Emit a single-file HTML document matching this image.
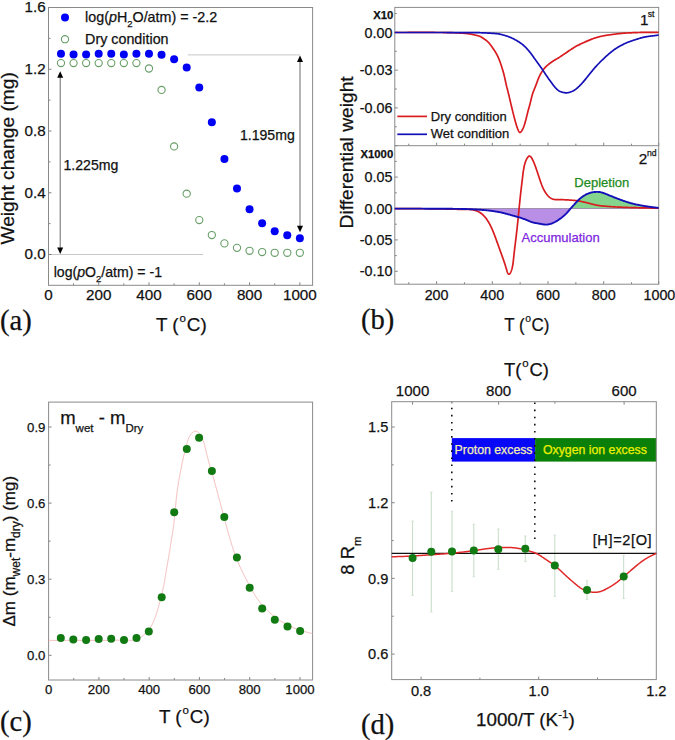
<!DOCTYPE html>
<html><head><meta charset="utf-8"><title>figure</title>
<style>
html,body{margin:0;padding:0;background:#fff;}
body{width:675px;height:740px;overflow:hidden;font-family:"Liberation Sans", sans-serif;}
svg{display:block;}
</style></head>
<body>
<svg width="675" height="740" viewBox="0 0 675 740">
<rect x="0" y="0" width="675" height="740" fill="#fff"/>
<g id="pa">
<line x1="187.8" y1="54.9" x2="300" y2="54.9" stroke="#c8c8c8" stroke-width="1" />
<line x1="48.5" y1="254.5" x2="203" y2="254.5" stroke="#c8c8c8" stroke-width="1" />
<line x1="73.55" y1="285.3" x2="73.55" y2="283.3" stroke="#666" stroke-width="0.8" />
<line x1="98.69" y1="285.3" x2="98.69" y2="282.3" stroke="#666" stroke-width="0.8" />
<line x1="123.84" y1="285.3" x2="123.84" y2="283.3" stroke="#666" stroke-width="0.8" />
<line x1="148.98" y1="285.3" x2="148.98" y2="282.3" stroke="#666" stroke-width="0.8" />
<line x1="174.12" y1="285.3" x2="174.12" y2="283.3" stroke="#666" stroke-width="0.8" />
<line x1="199.27" y1="285.3" x2="199.27" y2="282.3" stroke="#666" stroke-width="0.8" />
<line x1="224.42" y1="285.3" x2="224.42" y2="283.3" stroke="#666" stroke-width="0.8" />
<line x1="249.56" y1="285.3" x2="249.56" y2="282.3" stroke="#666" stroke-width="0.8" />
<line x1="274.7" y1="285.3" x2="274.7" y2="283.3" stroke="#666" stroke-width="0.8" />
<line x1="299.85" y1="285.3" x2="299.85" y2="282.3" stroke="#666" stroke-width="0.8" />
<line x1="48.5" y1="254.5" x2="51.5" y2="254.5" stroke="#666" stroke-width="0.8" />
<line x1="48.5" y1="223.62" x2="50.5" y2="223.62" stroke="#666" stroke-width="0.8" />
<line x1="48.5" y1="192.75" x2="51.5" y2="192.75" stroke="#666" stroke-width="0.8" />
<line x1="48.5" y1="161.88" x2="50.5" y2="161.88" stroke="#666" stroke-width="0.8" />
<line x1="48.5" y1="131" x2="51.5" y2="131" stroke="#666" stroke-width="0.8" />
<line x1="48.5" y1="100.12" x2="50.5" y2="100.12" stroke="#666" stroke-width="0.8" />
<line x1="48.5" y1="69.25" x2="51.5" y2="69.25" stroke="#666" stroke-width="0.8" />
<line x1="48.5" y1="38.37" x2="50.5" y2="38.37" stroke="#666" stroke-width="0.8" />
<rect x="48.5" y="7.5" width="264.1" height="277.8" fill="none" stroke="#8a8a8a" stroke-width="1" />
<text x="48.4" y="300.2" font-size="15.2" text-anchor="middle" fill="#111" stroke="#111" stroke-width="0.25" font-family='"Liberation Sans", sans-serif' font-weight="normal" >0</text>
<text x="98.69" y="300.2" font-size="15.2" text-anchor="middle" fill="#111" stroke="#111" stroke-width="0.25" font-family='"Liberation Sans", sans-serif' font-weight="normal" >200</text>
<text x="148.98" y="300.2" font-size="15.2" text-anchor="middle" fill="#111" stroke="#111" stroke-width="0.25" font-family='"Liberation Sans", sans-serif' font-weight="normal" >400</text>
<text x="199.27" y="300.2" font-size="15.2" text-anchor="middle" fill="#111" stroke="#111" stroke-width="0.25" font-family='"Liberation Sans", sans-serif' font-weight="normal" >600</text>
<text x="249.56" y="300.2" font-size="15.2" text-anchor="middle" fill="#111" stroke="#111" stroke-width="0.25" font-family='"Liberation Sans", sans-serif' font-weight="normal" >800</text>
<text x="299.85" y="300.2" font-size="15.2" text-anchor="middle" fill="#111" stroke="#111" stroke-width="0.25" font-family='"Liberation Sans", sans-serif' font-weight="normal" >1000</text>
<text x="45.7" y="259.3" font-size="15.2" text-anchor="end" fill="#111" stroke="#111" stroke-width="0.25" font-family='"Liberation Sans", sans-serif' font-weight="normal" >0.0</text>
<text x="45.7" y="197.55" font-size="15.2" text-anchor="end" fill="#111" stroke="#111" stroke-width="0.25" font-family='"Liberation Sans", sans-serif' font-weight="normal" >0.4</text>
<text x="45.7" y="135.8" font-size="15.2" text-anchor="end" fill="#111" stroke="#111" stroke-width="0.25" font-family='"Liberation Sans", sans-serif' font-weight="normal" >0.8</text>
<text x="45.7" y="74.05" font-size="15.2" text-anchor="end" fill="#111" stroke="#111" stroke-width="0.25" font-family='"Liberation Sans", sans-serif' font-weight="normal" >1.2</text>
<text x="45.7" y="12.3" font-size="15.2" text-anchor="end" fill="#111" stroke="#111" stroke-width="0.25" font-family='"Liberation Sans", sans-serif' font-weight="normal" >1.6</text>
<text x="156" y="331.4" font-size="18.8" text-anchor="start" fill="#111" stroke="#111" stroke-width="0.25" font-family='"Liberation Sans", sans-serif' font-weight="normal" >T (<tspan font-size="11.5" dy="-9" dx="0.9">o</tspan><tspan dy="9" dx="0.9">C)</tspan></text>
<text transform="translate(13.9,244.6) rotate(-90)" font-size="19.2" font-family='"Liberation Sans", sans-serif' fill="#111" stroke="#111" stroke-width="0.25">Weight change (mg)</text>
<text x="0" y="329.8" font-size="28.6" text-anchor="start" fill="#111" stroke="#111" stroke-width="0.25" font-family='"Liberation Serif", serif' font-weight="normal" >(a)</text>
<line x1="60.2" y1="75.3" x2="60.2" y2="250" stroke="#6a6a6a" stroke-width="1" />
<path d="M60.2,71.3 L57.2,77.8 L63.2,77.8 Z" fill="#000"/>
<path d="M60.2,254 L57.2,247.5 L63.2,247.5 Z" fill="#000"/>
<line x1="300" y1="59.4" x2="300" y2="228.2" stroke="#6a6a6a" stroke-width="1" />
<path d="M300,55.4 L297,61.9 L303,61.9 Z" fill="#000"/>
<path d="M300,232.2 L297,225.7 L303,225.7 Z" fill="#000"/>
<text x="63.5" y="170.4" font-size="14.1" text-anchor="start" fill="#111" stroke="#111" stroke-width="0.25" font-family='"Liberation Sans", sans-serif' font-weight="normal" >1.225mg</text>
<text x="239.9" y="139.5" font-size="14.1" text-anchor="start" fill="#111" stroke="#111" stroke-width="0.25" font-family='"Liberation Sans", sans-serif' font-weight="normal" >1.195mg</text>
<text x="53.7" y="277" font-size="14.1" text-anchor="start" fill="#111" stroke="#111" stroke-width="0.25" font-family='"Liberation Sans", sans-serif' font-weight="normal" >log(<tspan font-style="italic">p</tspan>O<tspan font-size="9.5" dy="4.5">2</tspan><tspan dy="-4.5">/atm) = -1</tspan></text>
<circle cx="65" cy="17.6" r="4" fill="#0000ff" stroke="none" stroke-width="1"/>
<text x="85.1" y="22.4" font-size="14.3" text-anchor="start" fill="#111" stroke="#111" stroke-width="0.25" font-family='"Liberation Sans", sans-serif' font-weight="normal" >log(<tspan font-style="italic">p</tspan>H<tspan font-size="9.5" dy="4.5">2</tspan><tspan dy="-4.5">O/atm) = -2.2</tspan></text>
<circle cx="65" cy="39.2" r="3.6" fill="none" stroke="#6a9e6a" stroke-width="1.1"/>
<text x="85.1" y="43.6" font-size="14.3" text-anchor="start" fill="#111" stroke="#111" stroke-width="0.25" font-family='"Liberation Sans", sans-serif' font-weight="normal" >Dry condition</text>
<circle cx="60.97" cy="63.07" r="3.6" fill="none" stroke="#689e68" stroke-width="1.1"/>
<circle cx="73.55" cy="63.07" r="3.6" fill="none" stroke="#689e68" stroke-width="1.1"/>
<circle cx="86.12" cy="63.07" r="3.6" fill="none" stroke="#689e68" stroke-width="1.1"/>
<circle cx="98.69" cy="63.07" r="3.6" fill="none" stroke="#689e68" stroke-width="1.1"/>
<circle cx="111.26" cy="63.07" r="3.6" fill="none" stroke="#689e68" stroke-width="1.1"/>
<circle cx="123.84" cy="63.07" r="3.6" fill="none" stroke="#689e68" stroke-width="1.1"/>
<circle cx="136.41" cy="63.07" r="3.6" fill="none" stroke="#689e68" stroke-width="1.1"/>
<circle cx="148.98" cy="68.48" r="3.6" fill="none" stroke="#689e68" stroke-width="1.1"/>
<circle cx="161.55" cy="89.94" r="3.6" fill="none" stroke="#689e68" stroke-width="1.1"/>
<circle cx="174.12" cy="146.44" r="3.6" fill="none" stroke="#689e68" stroke-width="1.1"/>
<circle cx="186.7" cy="193.68" r="3.6" fill="none" stroke="#689e68" stroke-width="1.1"/>
<circle cx="199.27" cy="220.07" r="3.6" fill="none" stroke="#689e68" stroke-width="1.1"/>
<circle cx="211.84" cy="235.05" r="3.6" fill="none" stroke="#689e68" stroke-width="1.1"/>
<circle cx="224.42" cy="243.38" r="3.6" fill="none" stroke="#689e68" stroke-width="1.1"/>
<circle cx="236.99" cy="247.86" r="3.6" fill="none" stroke="#689e68" stroke-width="1.1"/>
<circle cx="249.56" cy="250.79" r="3.6" fill="none" stroke="#689e68" stroke-width="1.1"/>
<circle cx="262.13" cy="252.03" r="3.6" fill="none" stroke="#689e68" stroke-width="1.1"/>
<circle cx="274.7" cy="252.8" r="3.6" fill="none" stroke="#689e68" stroke-width="1.1"/>
<circle cx="287.28" cy="252.8" r="3.6" fill="none" stroke="#689e68" stroke-width="1.1"/>
<circle cx="299.85" cy="252.8" r="3.6" fill="none" stroke="#689e68" stroke-width="1.1"/>
<circle cx="60.97" cy="53.81" r="4" fill="#0000f5" stroke="none" stroke-width="1"/>
<circle cx="73.55" cy="54.58" r="4" fill="#0000f5" stroke="none" stroke-width="1"/>
<circle cx="86.12" cy="54.58" r="4" fill="#0000f5" stroke="none" stroke-width="1"/>
<circle cx="98.69" cy="53.81" r="4" fill="#0000f5" stroke="none" stroke-width="1"/>
<circle cx="111.26" cy="53.81" r="4" fill="#0000f5" stroke="none" stroke-width="1"/>
<circle cx="123.84" cy="54.58" r="4" fill="#0000f5" stroke="none" stroke-width="1"/>
<circle cx="136.41" cy="53.81" r="4" fill="#0000f5" stroke="none" stroke-width="1"/>
<circle cx="148.98" cy="53.81" r="4" fill="#0000f5" stroke="none" stroke-width="1"/>
<circle cx="161.55" cy="54.74" r="4" fill="#0000f5" stroke="none" stroke-width="1"/>
<circle cx="174.12" cy="59.22" r="4" fill="#0000f5" stroke="none" stroke-width="1"/>
<circle cx="186.7" cy="67.55" r="4" fill="#0000f5" stroke="none" stroke-width="1"/>
<circle cx="199.27" cy="87.47" r="4" fill="#0000f5" stroke="none" stroke-width="1"/>
<circle cx="211.84" cy="122.2" r="4" fill="#0000f5" stroke="none" stroke-width="1"/>
<circle cx="224.42" cy="158.94" r="4" fill="#0000f5" stroke="none" stroke-width="1"/>
<circle cx="236.99" cy="188.43" r="4" fill="#0000f5" stroke="none" stroke-width="1"/>
<circle cx="249.56" cy="209.27" r="4" fill="#0000f5" stroke="none" stroke-width="1"/>
<circle cx="262.13" cy="223.16" r="4" fill="#0000f5" stroke="none" stroke-width="1"/>
<circle cx="274.7" cy="231.19" r="4" fill="#0000f5" stroke="none" stroke-width="1"/>
<circle cx="287.28" cy="235.2" r="4" fill="#0000f5" stroke="none" stroke-width="1"/>
<circle cx="299.85" cy="238.14" r="4" fill="#0000f5" stroke="none" stroke-width="1"/>
</g>
<g id="pb">
<clipPath id="cpP"><rect x="466" y="208.5" width="104.5" height="30"/></clipPath>
<clipPath id="cpG"><rect x="570.4" y="180" width="89" height="28.5"/></clipPath>
<path d="M394.8,208.6L396.54,208.6L398.27,208.61L400.01,208.61L401.74,208.62L403.46,208.62L405.19,208.62L406.9,208.63L408.61,208.63L410.32,208.64L412.01,208.64L413.7,208.65L415.37,208.65L417.04,208.65L418.69,208.66L420.33,208.66L421.95,208.67L423.57,208.67L425.16,208.68L426.74,208.68L428.3,208.69L429.84,208.7L431.36,208.7L432.87,208.71L434.35,208.71L435.81,208.72L437.24,208.73L438.65,208.73L440.04,208.74L441.4,208.75L442.74,208.75L444.04,208.76L445.32,208.77L446.57,208.78L447.79,208.78L448.97,208.79L450.13,208.8L451.25,208.81L452.34,208.82L453.4,208.83L454.43,208.84L455.44,208.85L456.42,208.86L457.38,208.87L458.32,208.89L459.25,208.9L460.15,208.92L461.05,208.93L461.93,208.95L462.8,208.97L463.66,208.99L464.51,209.01L465.36,209.04L466.2,209.06L467.04,209.09L467.88,209.12L468.73,209.15L469.58,209.18L470.43,209.22L471.29,209.26L472.16,209.3L473.03,209.34L473.9,209.38L474.78,209.43L475.66,209.48L476.54,209.53L477.42,209.58L478.31,209.64L479.19,209.7L480.07,209.76L480.94,209.82L481.82,209.89L482.69,209.95L483.55,210.03L484.41,210.1L485.27,210.17L486.11,210.25L486.95,210.33L487.78,210.42L488.6,210.5L489.41,210.59L490.21,210.69L491.01,210.78L491.79,210.88L492.57,210.99L493.35,211.09L494.12,211.21L494.88,211.32L495.64,211.44L496.4,211.57L497.15,211.7L497.9,211.84L498.65,211.98L499.39,212.13L500.14,212.28L500.88,212.44L501.62,212.61L502.37,212.78L503.11,212.96L503.85,213.14L504.59,213.33L505.33,213.52L506.06,213.72L506.79,213.91L507.52,214.11L508.24,214.31L508.96,214.51L509.67,214.71L510.37,214.91L511.07,215.11L511.76,215.3L512.44,215.49L513.1,215.68L513.76,215.86L514.41,216.04L515.05,216.21L515.68,216.38L516.3,216.55L516.91,216.71L517.52,216.88L518.12,217.04L518.71,217.21L519.3,217.38L519.89,217.55L520.47,217.74L521.05,217.92L521.63,218.12L522.21,218.32L522.79,218.53L523.37,218.76L523.96,218.99L524.54,219.23L525.12,219.48L525.71,219.73L526.3,219.98L526.89,220.23L527.48,220.48L528.07,220.73L528.67,220.97L529.27,221.21L529.87,221.44L530.47,221.65L531.07,221.86L531.68,222.06L532.29,222.24L532.9,222.4L533.51,222.56L534.12,222.7L534.73,222.84L535.34,222.96L535.94,223.08L536.54,223.19L537.14,223.3L537.73,223.41L538.32,223.51L538.9,223.61L539.47,223.71L540.03,223.81L540.58,223.91L541.13,224.01L541.67,224.11L542.2,224.2L542.72,224.29L543.25,224.37L543.77,224.45L544.28,224.51L544.8,224.56L545.31,224.59L545.82,224.61L546.34,224.6L546.86,224.58L547.38,224.54L547.9,224.48L548.43,224.4L548.95,224.3L549.48,224.19L550,224.05L550.52,223.91L551.04,223.74L551.56,223.57L552.08,223.38L552.59,223.17L553.1,222.96L553.6,222.73L554.1,222.49L554.6,222.24L555.09,221.99L555.58,221.72L556.07,221.44L556.56,221.15L557.04,220.85L557.53,220.54L558.01,220.22L558.5,219.9L558.98,219.56L559.47,219.22L559.96,218.87L560.45,218.51L560.94,218.15L561.42,217.78L561.91,217.4L562.39,217.02L562.86,216.63L563.33,216.24L563.8,215.84L564.25,215.45L564.69,215.05L565.13,214.65L565.55,214.24L565.96,213.84L566.35,213.44L566.74,213.04L567.11,212.64L567.47,212.24L567.82,211.84L568.16,211.44L568.5,211.04L568.84,210.64L569.17,210.25L569.5,209.85L569.83,209.46L570.15,209.07L570.49,208.68L570.82,208.29L571.16,207.91L571.5,207.52L571.85,207.13L572.19,206.75L572.54,206.36L572.9,205.97L573.25,205.58L573.61,205.18L573.98,204.79L574.34,204.38L574.71,203.98L575.08,203.57L575.46,203.15L575.84,202.74L576.22,202.32L576.61,201.9L577,201.48L577.4,201.07L577.81,200.65L578.22,200.24L578.64,199.83L579.07,199.43L579.51,199.03L579.95,198.64L580.4,198.26L580.86,197.89L581.33,197.52L581.81,197.16L582.29,196.82L582.77,196.48L583.26,196.15L583.75,195.84L584.25,195.53L584.74,195.24L585.23,194.96L585.72,194.7L586.21,194.44L586.69,194.21L587.18,193.98L587.65,193.77L588.13,193.57L588.6,193.39L589.07,193.21L589.54,193.05L590.01,192.91L590.48,192.77L590.95,192.64L591.41,192.53L591.88,192.42L592.35,192.33L592.82,192.25L593.29,192.17L593.76,192.11L594.23,192.05L594.69,192L595.16,191.97L595.62,191.94L596.07,191.92L596.52,191.9L596.97,191.9L597.4,191.9L597.83,191.92L598.26,191.94L598.68,191.96L599.09,192L599.5,192.05L599.91,192.1L600.31,192.17L600.7,192.24L601.09,192.32L601.48,192.41L601.86,192.51L602.25,192.62L602.64,192.74L603.03,192.87L603.43,193.01L603.84,193.16L604.26,193.32L604.7,193.48L605.15,193.66L605.62,193.84L606.1,194.03L606.59,194.23L607.1,194.44L607.62,194.65L608.15,194.87L608.68,195.08L609.23,195.31L609.77,195.53L610.32,195.76L610.88,195.98L611.43,196.21L611.98,196.43L612.53,196.66L613.08,196.88L613.63,197.1L614.17,197.31L614.71,197.53L615.26,197.74L615.8,197.96L616.34,198.17L616.88,198.38L617.42,198.59L617.96,198.79L618.5,199L619.04,199.2L619.59,199.41L620.13,199.61L620.67,199.81L621.22,200.01L621.77,200.21L622.31,200.4L622.86,200.6L623.41,200.79L623.96,200.98L624.5,201.17L625.05,201.36L625.6,201.54L626.15,201.72L626.7,201.9L627.25,202.08L627.8,202.25L628.35,202.42L628.9,202.59L629.45,202.75L630,202.91L630.55,203.07L631.1,203.23L631.66,203.38L632.21,203.53L632.77,203.67L633.32,203.81L633.88,203.95L634.44,204.08L634.99,204.21L635.55,204.33L636.11,204.46L636.67,204.57L637.23,204.69L637.79,204.8L638.35,204.91L638.91,205.02L639.47,205.13L640.02,205.23L640.58,205.33L641.13,205.43L641.68,205.53L642.23,205.63L642.77,205.73L643.32,205.82L643.87,205.91L644.42,206.01L644.97,206.1L645.52,206.19L646.08,206.28L646.64,206.37L647.21,206.45L647.79,206.54L648.37,206.62L648.96,206.71L649.56,206.79L650.17,206.87L650.79,206.96L651.41,207.04L652.05,207.12L652.68,207.2L653.33,207.28L653.97,207.36L654.63,207.43L655.28,207.51L655.94,207.59L656.61,207.67L657.27,207.75L657.93,207.82L658.6,207.9 L658.6,208.5 L394.8,208.5 Z" fill="#b98ee6" clip-path="url(#cpP)"/>
<path d="M394.8,208.6L396.54,208.6L398.27,208.61L400.01,208.61L401.74,208.62L403.46,208.62L405.19,208.62L406.9,208.63L408.61,208.63L410.32,208.64L412.01,208.64L413.7,208.65L415.37,208.65L417.04,208.65L418.69,208.66L420.33,208.66L421.95,208.67L423.57,208.67L425.16,208.68L426.74,208.68L428.3,208.69L429.84,208.7L431.36,208.7L432.87,208.71L434.35,208.71L435.81,208.72L437.24,208.73L438.65,208.73L440.04,208.74L441.4,208.75L442.74,208.75L444.04,208.76L445.32,208.77L446.57,208.78L447.79,208.78L448.97,208.79L450.13,208.8L451.25,208.81L452.34,208.82L453.4,208.83L454.43,208.84L455.44,208.85L456.42,208.86L457.38,208.87L458.32,208.89L459.25,208.9L460.15,208.92L461.05,208.93L461.93,208.95L462.8,208.97L463.66,208.99L464.51,209.01L465.36,209.04L466.2,209.06L467.04,209.09L467.88,209.12L468.73,209.15L469.58,209.18L470.43,209.22L471.29,209.26L472.16,209.3L473.03,209.34L473.9,209.38L474.78,209.43L475.66,209.48L476.54,209.53L477.42,209.58L478.31,209.64L479.19,209.7L480.07,209.76L480.94,209.82L481.82,209.89L482.69,209.95L483.55,210.03L484.41,210.1L485.27,210.17L486.11,210.25L486.95,210.33L487.78,210.42L488.6,210.5L489.41,210.59L490.21,210.69L491.01,210.78L491.79,210.88L492.57,210.99L493.35,211.09L494.12,211.21L494.88,211.32L495.64,211.44L496.4,211.57L497.15,211.7L497.9,211.84L498.65,211.98L499.39,212.13L500.14,212.28L500.88,212.44L501.62,212.61L502.37,212.78L503.11,212.96L503.85,213.14L504.59,213.33L505.33,213.52L506.06,213.72L506.79,213.91L507.52,214.11L508.24,214.31L508.96,214.51L509.67,214.71L510.37,214.91L511.07,215.11L511.76,215.3L512.44,215.49L513.1,215.68L513.76,215.86L514.41,216.04L515.05,216.21L515.68,216.38L516.3,216.55L516.91,216.71L517.52,216.88L518.12,217.04L518.71,217.21L519.3,217.38L519.89,217.55L520.47,217.74L521.05,217.92L521.63,218.12L522.21,218.32L522.79,218.53L523.37,218.76L523.96,218.99L524.54,219.23L525.12,219.48L525.71,219.73L526.3,219.98L526.89,220.23L527.48,220.48L528.07,220.73L528.67,220.97L529.27,221.21L529.87,221.44L530.47,221.65L531.07,221.86L531.68,222.06L532.29,222.24L532.9,222.4L533.51,222.56L534.12,222.7L534.73,222.84L535.34,222.96L535.94,223.08L536.54,223.19L537.14,223.3L537.73,223.41L538.32,223.51L538.9,223.61L539.47,223.71L540.03,223.81L540.58,223.91L541.13,224.01L541.67,224.11L542.2,224.2L542.72,224.29L543.25,224.37L543.77,224.45L544.28,224.51L544.8,224.56L545.31,224.59L545.82,224.61L546.34,224.6L546.86,224.58L547.38,224.54L547.9,224.48L548.43,224.4L548.95,224.3L549.48,224.19L550,224.05L550.52,223.91L551.04,223.74L551.56,223.57L552.08,223.38L552.59,223.17L553.1,222.96L553.6,222.73L554.1,222.49L554.6,222.24L555.09,221.99L555.58,221.72L556.07,221.44L556.56,221.15L557.04,220.85L557.53,220.54L558.01,220.22L558.5,219.9L558.98,219.56L559.47,219.22L559.96,218.87L560.45,218.51L560.94,218.15L561.42,217.78L561.91,217.4L562.39,217.02L562.86,216.63L563.33,216.24L563.8,215.84L564.25,215.45L564.69,215.05L565.13,214.65L565.55,214.24L565.96,213.84L566.35,213.44L566.74,213.04L567.11,212.64L567.47,212.24L567.82,211.84L568.16,211.44L568.5,211.04L568.84,210.64L569.17,210.25L569.5,209.85L569.83,209.46L570.15,209.07L570.49,208.68L570.82,208.29L571.16,207.91L571.5,207.52L571.85,207.13L572.19,206.75L572.54,206.36L572.9,205.97L573.25,205.58L573.61,205.18L573.98,204.79L574.34,204.38L574.71,203.98L575.08,203.57L575.46,203.15L575.84,202.74L576.22,202.32L576.61,201.9L577,201.48L577.4,201.07L577.81,200.65L578.22,200.24L578.64,199.83L579.07,199.43L579.51,199.03L579.95,198.64L580.4,198.26L580.86,197.89L581.33,197.52L581.81,197.16L582.29,196.82L582.77,196.48L583.26,196.15L583.75,195.84L584.25,195.53L584.74,195.24L585.23,194.96L585.72,194.7L586.21,194.44L586.69,194.21L587.18,193.98L587.65,193.77L588.13,193.57L588.6,193.39L589.07,193.21L589.54,193.05L590.01,192.91L590.48,192.77L590.95,192.64L591.41,192.53L591.88,192.42L592.35,192.33L592.82,192.25L593.29,192.17L593.76,192.11L594.23,192.05L594.69,192L595.16,191.97L595.62,191.94L596.07,191.92L596.52,191.9L596.97,191.9L597.4,191.9L597.83,191.92L598.26,191.94L598.68,191.96L599.09,192L599.5,192.05L599.91,192.1L600.31,192.17L600.7,192.24L601.09,192.32L601.48,192.41L601.86,192.51L602.25,192.62L602.64,192.74L603.03,192.87L603.43,193.01L603.84,193.16L604.26,193.32L604.7,193.48L605.15,193.66L605.62,193.84L606.1,194.03L606.59,194.23L607.1,194.44L607.62,194.65L608.15,194.87L608.68,195.08L609.23,195.31L609.77,195.53L610.32,195.76L610.88,195.98L611.43,196.21L611.98,196.43L612.53,196.66L613.08,196.88L613.63,197.1L614.17,197.31L614.71,197.53L615.26,197.74L615.8,197.96L616.34,198.17L616.88,198.38L617.42,198.59L617.96,198.79L618.5,199L619.04,199.2L619.59,199.41L620.13,199.61L620.67,199.81L621.22,200.01L621.77,200.21L622.31,200.4L622.86,200.6L623.41,200.79L623.96,200.98L624.5,201.17L625.05,201.36L625.6,201.54L626.15,201.72L626.7,201.9L627.25,202.08L627.8,202.25L628.35,202.42L628.9,202.59L629.45,202.75L630,202.91L630.55,203.07L631.1,203.23L631.66,203.38L632.21,203.53L632.77,203.67L633.32,203.81L633.88,203.95L634.44,204.08L634.99,204.21L635.55,204.33L636.11,204.46L636.67,204.57L637.23,204.69L637.79,204.8L638.35,204.91L638.91,205.02L639.47,205.13L640.02,205.23L640.58,205.33L641.13,205.43L641.68,205.53L642.23,205.63L642.77,205.73L643.32,205.82L643.87,205.91L644.42,206.01L644.97,206.1L645.52,206.19L646.08,206.28L646.64,206.37L647.21,206.45L647.79,206.54L648.37,206.62L648.96,206.71L649.56,206.79L650.17,206.87L650.79,206.96L651.41,207.04L652.05,207.12L652.68,207.2L653.33,207.28L653.97,207.36L654.63,207.43L655.28,207.51L655.94,207.59L656.61,207.67L657.27,207.75L657.93,207.82L658.6,207.9 L658.6,208.5 L394.8,208.5 Z" fill="#84d48e" clip-path="url(#cpG)"/>
<line x1="394.8" y1="32.4" x2="658.7" y2="32.4" stroke="#a0a0a0" stroke-width="1.2" />
<line x1="394.8" y1="208.5" x2="658.7" y2="208.5" stroke="#a090b0" stroke-width="1.2" />
<line x1="408.75" y1="284.2" x2="408.75" y2="282.2" stroke="#666" stroke-width="0.8" />
<line x1="408.75" y1="145.7" x2="408.75" y2="143.7" stroke="#666" stroke-width="0.8" />
<line x1="436.6" y1="284.2" x2="436.6" y2="281.2" stroke="#666" stroke-width="0.8" />
<line x1="436.6" y1="145.7" x2="436.6" y2="142.7" stroke="#666" stroke-width="0.8" />
<line x1="464.45" y1="284.2" x2="464.45" y2="282.2" stroke="#666" stroke-width="0.8" />
<line x1="464.45" y1="145.7" x2="464.45" y2="143.7" stroke="#666" stroke-width="0.8" />
<line x1="492.3" y1="284.2" x2="492.3" y2="281.2" stroke="#666" stroke-width="0.8" />
<line x1="492.3" y1="145.7" x2="492.3" y2="142.7" stroke="#666" stroke-width="0.8" />
<line x1="520.15" y1="284.2" x2="520.15" y2="282.2" stroke="#666" stroke-width="0.8" />
<line x1="520.15" y1="145.7" x2="520.15" y2="143.7" stroke="#666" stroke-width="0.8" />
<line x1="548" y1="284.2" x2="548" y2="281.2" stroke="#666" stroke-width="0.8" />
<line x1="548" y1="145.7" x2="548" y2="142.7" stroke="#666" stroke-width="0.8" />
<line x1="575.85" y1="284.2" x2="575.85" y2="282.2" stroke="#666" stroke-width="0.8" />
<line x1="575.85" y1="145.7" x2="575.85" y2="143.7" stroke="#666" stroke-width="0.8" />
<line x1="603.7" y1="284.2" x2="603.7" y2="281.2" stroke="#666" stroke-width="0.8" />
<line x1="603.7" y1="145.7" x2="603.7" y2="142.7" stroke="#666" stroke-width="0.8" />
<line x1="631.55" y1="284.2" x2="631.55" y2="282.2" stroke="#666" stroke-width="0.8" />
<line x1="631.55" y1="145.7" x2="631.55" y2="143.7" stroke="#666" stroke-width="0.8" />
<line x1="658.7" y1="284.2" x2="658.7" y2="281.2" stroke="#666" stroke-width="0.8" />
<line x1="658.7" y1="145.7" x2="658.7" y2="142.7" stroke="#666" stroke-width="0.8" />
<line x1="394.8" y1="145.65" x2="397.8" y2="145.65" stroke="#666" stroke-width="0.8" />
<line x1="394.8" y1="126.78" x2="396.8" y2="126.78" stroke="#666" stroke-width="0.8" />
<line x1="394.8" y1="107.9" x2="397.8" y2="107.9" stroke="#666" stroke-width="0.8" />
<line x1="394.8" y1="89.03" x2="396.8" y2="89.03" stroke="#666" stroke-width="0.8" />
<line x1="394.8" y1="70.15" x2="397.8" y2="70.15" stroke="#666" stroke-width="0.8" />
<line x1="394.8" y1="51.27" x2="396.8" y2="51.27" stroke="#666" stroke-width="0.8" />
<line x1="394.8" y1="32.4" x2="397.8" y2="32.4" stroke="#666" stroke-width="0.8" />
<line x1="394.8" y1="13.52" x2="396.8" y2="13.52" stroke="#666" stroke-width="0.8" />
<line x1="394.8" y1="271.3" x2="397.8" y2="271.3" stroke="#666" stroke-width="0.8" />
<line x1="394.8" y1="255.6" x2="396.8" y2="255.6" stroke="#666" stroke-width="0.8" />
<line x1="394.8" y1="239.9" x2="397.8" y2="239.9" stroke="#666" stroke-width="0.8" />
<line x1="394.8" y1="224.2" x2="396.8" y2="224.2" stroke="#666" stroke-width="0.8" />
<line x1="394.8" y1="208.5" x2="397.8" y2="208.5" stroke="#666" stroke-width="0.8" />
<line x1="394.8" y1="192.8" x2="396.8" y2="192.8" stroke="#666" stroke-width="0.8" />
<line x1="394.8" y1="177.1" x2="397.8" y2="177.1" stroke="#666" stroke-width="0.8" />
<line x1="394.8" y1="161.4" x2="396.8" y2="161.4" stroke="#666" stroke-width="0.8" />
<rect x="394.8" y="7.4" width="263.9" height="276.8" fill="none" stroke="#8a8a8a" stroke-width="1" />
<line x1="394.8" y1="145.7" x2="658.7" y2="145.7" stroke="#8a8a8a" stroke-width="1" />
<path d="M394.8,32.5L396.53,32.5L398.25,32.49L399.97,32.49L401.69,32.49L403.41,32.48L405.11,32.48L406.81,32.48L408.5,32.47L410.17,32.47L411.84,32.47L413.48,32.47L415.12,32.46L416.74,32.46L418.34,32.46L419.92,32.46L421.47,32.46L423.01,32.46L424.52,32.46L426.01,32.46L427.47,32.46L428.9,32.46L430.31,32.46L431.68,32.47L433.02,32.47L434.32,32.47L435.6,32.48L436.83,32.48L438.03,32.49L439.19,32.49L440.3,32.5L441.38,32.51L442.42,32.52L443.42,32.53L444.39,32.54L445.33,32.55L446.24,32.56L447.12,32.58L447.98,32.59L448.82,32.61L449.65,32.63L450.45,32.65L451.25,32.67L452.03,32.69L452.81,32.72L453.58,32.74L454.35,32.77L455.11,32.8L455.88,32.84L456.65,32.87L457.42,32.91L458.18,32.95L458.93,32.99L459.68,33.03L460.42,33.07L461.14,33.12L461.85,33.16L462.54,33.21L463.21,33.26L463.86,33.31L464.49,33.36L465.09,33.41L465.67,33.46L466.22,33.51L466.75,33.56L467.26,33.62L467.76,33.68L468.24,33.74L468.72,33.8L469.19,33.87L469.65,33.94L470.11,34.02L470.57,34.1L471.03,34.18L471.49,34.27L471.96,34.37L472.43,34.46L472.91,34.56L473.39,34.66L473.88,34.77L474.38,34.87L474.89,34.98L475.4,35.09L475.92,35.21L476.45,35.33L476.97,35.46L477.49,35.59L478,35.73L478.5,35.88L478.99,36.04L479.47,36.21L479.93,36.39L480.37,36.59L480.79,36.79L481.2,37.01L481.6,37.23L481.99,37.47L482.37,37.7L482.75,37.94L483.12,38.18L483.5,38.43L483.87,38.68L484.24,38.92L484.6,39.18L484.97,39.43L485.34,39.69L485.7,39.96L486.06,40.24L486.41,40.53L486.76,40.82L487.11,41.13L487.45,41.44L487.79,41.76L488.12,42.09L488.45,42.43L488.77,42.77L489.09,43.12L489.39,43.47L489.69,43.83L489.99,44.19L490.27,44.56L490.56,44.93L490.85,45.32L491.14,45.71L491.43,46.12L491.73,46.55L492.04,46.99L492.37,47.45L492.7,47.93L493.04,48.43L493.4,48.95L493.76,49.49L494.13,50.04L494.5,50.61L494.88,51.2L495.25,51.79L495.63,52.4L495.99,53.02L496.36,53.65L496.71,54.28L497.06,54.93L497.39,55.58L497.71,56.23L498.02,56.89L498.32,57.56L498.61,58.23L498.9,58.9L499.17,59.58L499.43,60.27L499.69,60.95L499.95,61.65L500.19,62.34L500.44,63.04L500.68,63.74L500.92,64.45L501.15,65.15L501.38,65.86L501.62,66.58L501.84,67.29L502.07,68L502.29,68.71L502.51,69.41L502.72,70.11L502.93,70.81L503.13,71.49L503.32,72.17L503.51,72.85L503.69,73.51L503.86,74.16L504.02,74.79L504.18,75.42L504.32,76.03L504.46,76.64L504.6,77.24L504.73,77.84L504.86,78.44L504.99,79.04L505.12,79.65L505.25,80.26L505.39,80.89L505.53,81.52L505.67,82.17L505.82,82.84L505.99,83.53L506.15,84.23L506.33,84.95L506.5,85.68L506.69,86.42L506.87,87.18L507.07,87.94L507.26,88.71L507.45,89.49L507.65,90.27L507.85,91.06L508.04,91.85L508.24,92.64L508.43,93.43L508.63,94.22L508.82,95.01L509.01,95.8L509.19,96.59L509.38,97.37L509.57,98.16L509.75,98.94L509.93,99.72L510.11,100.51L510.3,101.29L510.48,102.07L510.66,102.85L510.84,103.62L511.02,104.4L511.21,105.18L511.39,105.96L511.57,106.73L511.76,107.51L511.95,108.28L512.13,109.05L512.32,109.82L512.51,110.59L512.7,111.35L512.88,112.1L513.07,112.85L513.26,113.6L513.44,114.34L513.63,115.06L513.81,115.79L513.99,116.5L514.17,117.2L514.35,117.89L514.53,118.58L514.71,119.25L514.89,119.92L515.07,120.57L515.24,121.22L515.42,121.87L515.6,122.51L515.79,123.14L515.97,123.77L516.16,124.39L516.35,125.01L516.54,125.63L516.74,126.24L516.95,126.85L517.15,127.45L517.36,128.04L517.57,128.61L517.79,129.15L518,129.67L518.21,130.17L518.43,130.62L518.64,131.04L518.85,131.42L519.06,131.74L519.27,132.02L519.48,132.23L519.7,132.36L519.94,132.41L520.19,132.38L520.45,132.24L520.73,132.03L521.02,131.73L521.32,131.37L521.62,130.96L521.92,130.5L522.21,130.01L522.5,129.49L522.78,128.95L523.04,128.4L523.29,127.85L523.53,127.28L523.76,126.7L523.98,126.11L524.19,125.5L524.4,124.88L524.6,124.25L524.8,123.59L525,122.92L525.19,122.24L525.38,121.53L525.58,120.8L525.78,120.06L525.97,119.29L526.17,118.52L526.37,117.74L526.56,116.95L526.76,116.16L526.96,115.37L527.15,114.59L527.34,113.82L527.54,113.05L527.72,112.31L527.91,111.58L528.09,110.87L528.27,110.2L528.44,109.55L528.61,108.93L528.78,108.33L528.94,107.76L529.1,107.2L529.26,106.66L529.41,106.12L529.56,105.58L529.71,105.04L529.86,104.49L530.01,103.92L530.16,103.34L530.31,102.74L530.47,102.11L530.62,101.47L530.77,100.8L530.93,100.13L531.09,99.44L531.26,98.74L531.43,98.03L531.61,97.32L531.79,96.61L531.98,95.9L532.18,95.2L532.38,94.5L532.6,93.81L532.82,93.13L533.05,92.46L533.29,91.8L533.54,91.15L533.79,90.51L534.04,89.87L534.3,89.24L534.55,88.61L534.81,87.99L535.07,87.37L535.32,86.76L535.57,86.14L535.81,85.52L536.05,84.91L536.28,84.29L536.51,83.67L536.74,83.05L536.96,82.43L537.18,81.81L537.41,81.19L537.63,80.58L537.86,79.96L538.1,79.35L538.34,78.74L538.59,78.13L538.84,77.53L539.11,76.93L539.39,76.34L539.67,75.75L539.96,75.17L540.26,74.59L540.57,74.03L540.88,73.48L541.19,72.94L541.51,72.41L541.82,71.89L542.14,71.39L542.46,70.91L542.77,70.45L543.09,70L543.41,69.56L543.73,69.14L544.05,68.73L544.38,68.33L544.73,67.93L545.08,67.54L545.45,67.15L545.83,66.76L546.23,66.37L546.65,65.97L547.09,65.58L547.55,65.18L548.02,64.78L548.5,64.38L549,63.98L549.51,63.59L550.03,63.2L550.55,62.81L551.09,62.43L551.63,62.05L552.17,61.69L552.72,61.33L553.26,60.98L553.81,60.63L554.35,60.3L554.89,59.97L555.43,59.65L555.95,59.34L556.46,59.04L556.97,58.75L557.45,58.46L557.93,58.18L558.38,57.91L558.81,57.65L559.24,57.39L559.65,57.13L560.06,56.87L560.47,56.6L560.89,56.32L561.33,56.03L561.78,55.73L562.27,55.4L562.78,55.05L563.33,54.67L563.92,54.27L564.54,53.85L565.19,53.41L565.85,52.95L566.54,52.48L567.24,52.01L567.94,51.53L568.64,51.05L569.35,50.58L570.04,50.11L570.72,49.66L571.38,49.22L572.01,48.8L572.62,48.41L573.19,48.04L573.73,47.7L574.23,47.39L574.71,47.1L575.17,46.83L575.62,46.57L576.05,46.32L576.49,46.09L576.93,45.85L577.37,45.62L577.84,45.38L578.32,45.14L578.83,44.89L579.35,44.63L579.9,44.37L580.46,44.1L581.03,43.83L581.61,43.55L582.2,43.28L582.8,43L583.4,42.72L584.01,42.45L584.61,42.17L585.22,41.9L585.82,41.63L586.41,41.37L587.01,41.11L587.6,40.85L588.19,40.6L588.78,40.35L589.36,40.1L589.95,39.86L590.54,39.62L591.13,39.39L591.71,39.16L592.3,38.94L592.89,38.72L593.49,38.5L594.08,38.29L594.68,38.09L595.28,37.89L595.88,37.7L596.48,37.51L597.08,37.33L597.68,37.16L598.29,36.99L598.9,36.83L599.51,36.67L600.12,36.52L600.74,36.38L601.35,36.25L601.97,36.12L602.58,35.99L603.2,35.88L603.81,35.76L604.42,35.66L605.03,35.55L605.64,35.45L606.24,35.35L606.84,35.26L607.43,35.16L608.02,35.07L608.61,34.98L609.19,34.9L609.78,34.81L610.37,34.73L610.96,34.64L611.55,34.56L612.16,34.48L612.77,34.4L613.38,34.32L614.02,34.24L614.66,34.16L615.31,34.07L615.98,33.99L616.66,33.91L617.35,33.83L618.04,33.76L618.75,33.68L619.45,33.6L620.17,33.53L620.89,33.46L621.61,33.39L622.33,33.33L623.05,33.27L623.77,33.21L624.49,33.16L625.21,33.11L625.92,33.06L626.63,33.02L627.34,32.98L628.05,32.94L628.75,32.9L629.45,32.87L630.15,32.84L630.84,32.81L631.53,32.78L632.21,32.75L632.9,32.72L633.57,32.7L634.25,32.67L634.92,32.64L635.59,32.62L636.26,32.59L636.94,32.57L637.62,32.55L638.3,32.52L639,32.5L639.7,32.48L640.41,32.46L641.14,32.44L641.88,32.42L642.64,32.41L643.42,32.39L644.21,32.38L645.03,32.37L645.86,32.36L646.7,32.35L647.56,32.34L648.44,32.33L649.32,32.33L650.22,32.32L651.12,32.32L652.04,32.31L652.96,32.31L653.89,32.31L654.83,32.31L655.77,32.3L656.71,32.3L657.65,32.3L658.6,32.3" fill="none" stroke="#d81c20" stroke-width="1.7"/>
<path d="M394.8,32.5L397.06,32.5L399.32,32.5L401.58,32.5L403.84,32.5L406.09,32.5L408.33,32.5L410.56,32.5L412.78,32.5L415,32.5L417.2,32.5L419.38,32.5L421.55,32.5L423.7,32.5L425.84,32.51L427.95,32.51L430.05,32.51L432.12,32.51L434.17,32.51L436.19,32.51L438.18,32.51L440.15,32.52L442.09,32.52L443.99,32.52L445.87,32.52L447.71,32.53L449.51,32.53L451.28,32.53L453.01,32.54L454.7,32.54L456.36,32.54L457.96,32.55L459.53,32.55L461.05,32.56L462.52,32.56L463.95,32.57L465.32,32.57L466.65,32.58L467.92,32.59L469.14,32.59L470.3,32.6L471.41,32.61L472.47,32.62L473.48,32.63L474.45,32.64L475.38,32.65L476.27,32.66L477.12,32.67L477.95,32.68L478.75,32.7L479.53,32.72L480.29,32.73L481.03,32.75L481.76,32.78L482.49,32.8L483.21,32.83L483.93,32.85L484.65,32.88L485.38,32.92L486.11,32.95L486.85,32.99L487.59,33.03L488.33,33.07L489.06,33.11L489.79,33.15L490.5,33.2L491.2,33.24L491.89,33.29L492.55,33.33L493.19,33.38L493.81,33.42L494.39,33.46L494.95,33.5L495.47,33.54L495.96,33.59L496.43,33.63L496.88,33.67L497.32,33.72L497.74,33.77L498.16,33.83L498.58,33.89L499.01,33.96L499.44,34.05L499.89,34.14L500.34,34.24L500.8,34.34L501.27,34.46L501.75,34.58L502.23,34.7L502.71,34.84L503.2,34.97L503.69,35.11L504.18,35.25L504.67,35.4L505.15,35.54L505.64,35.69L506.12,35.84L506.59,36L507.07,36.15L507.53,36.31L507.99,36.47L508.44,36.63L508.88,36.79L509.31,36.96L509.74,37.13L510.16,37.3L510.57,37.47L510.98,37.65L511.38,37.83L511.79,38.01L512.19,38.2L512.6,38.4L513.01,38.6L513.42,38.81L513.84,39.03L514.25,39.24L514.67,39.46L515.08,39.69L515.48,39.91L515.88,40.13L516.27,40.35L516.65,40.57L517.02,40.79L517.38,41L517.73,41.21L518.07,41.42L518.41,41.63L518.74,41.84L519.07,42.05L519.4,42.27L519.73,42.49L520.06,42.71L520.4,42.94L520.73,43.18L521.07,43.41L521.4,43.66L521.74,43.91L522.07,44.17L522.41,44.43L522.74,44.7L523.08,44.97L523.41,45.25L523.74,45.54L524.07,45.83L524.39,46.13L524.71,46.43L525.03,46.74L525.35,47.05L525.66,47.37L525.97,47.69L526.28,48.01L526.59,48.34L526.89,48.67L527.19,49.01L527.49,49.35L527.8,49.69L528.1,50.04L528.4,50.4L528.71,50.76L529.01,51.13L529.31,51.49L529.62,51.86L529.92,52.23L530.21,52.6L530.51,52.97L530.79,53.34L531.07,53.7L531.34,54.05L531.6,54.4L531.86,54.75L532.12,55.11L532.37,55.46L532.64,55.83L532.91,56.21L533.19,56.61L533.49,57.03L533.8,57.48L534.14,57.95L534.5,58.46L534.88,59L535.28,59.55L535.69,60.13L536.12,60.72L536.55,61.33L536.99,61.94L537.43,62.55L537.87,63.16L538.3,63.76L538.73,64.36L539.15,64.94L539.55,65.5L539.94,66.03L540.3,66.54L540.65,67.03L540.97,67.48L541.28,67.91L541.58,68.33L541.86,68.73L542.13,69.12L542.39,69.5L542.64,69.87L542.9,70.25L543.15,70.62L543.4,71.01L543.66,71.4L543.91,71.8L544.18,72.2L544.45,72.62L544.72,73.05L545,73.48L545.29,73.93L545.59,74.38L545.9,74.85L546.22,75.33L546.55,75.82L546.9,76.32L547.25,76.83L547.61,77.34L547.98,77.87L548.35,78.39L548.73,78.92L549.11,79.45L549.49,79.98L549.87,80.51L550.25,81.03L550.63,81.55L551,82.06L551.37,82.57L551.73,83.06L552.09,83.55L552.44,84.03L552.79,84.5L553.14,84.96L553.49,85.41L553.84,85.86L554.19,86.29L554.55,86.72L554.9,87.14L555.26,87.55L555.63,87.95L556,88.34L556.37,88.72L556.75,89.09L557.14,89.44L557.53,89.78L557.92,90.1L558.33,90.4L558.73,90.68L559.14,90.94L559.56,91.18L559.99,91.39L560.41,91.59L560.84,91.76L561.27,91.91L561.7,92.05L562.12,92.17L562.54,92.28L562.95,92.38L563.35,92.47L563.74,92.55L564.12,92.63L564.5,92.69L564.88,92.75L565.26,92.79L565.65,92.81L566.06,92.83L566.48,92.82L566.93,92.79L567.4,92.74L567.89,92.67L568.4,92.58L568.93,92.46L569.47,92.33L570.02,92.17L570.58,91.99L571.14,91.78L571.71,91.56L572.27,91.31L572.84,91.04L573.39,90.74L573.94,90.43L574.47,90.09L575,89.73L575.53,89.36L576.04,88.98L576.54,88.58L577.04,88.17L577.52,87.75L578,87.32L578.46,86.89L578.92,86.46L579.37,86.03L579.81,85.59L580.23,85.16L580.65,84.73L581.07,84.3L581.47,83.87L581.88,83.43L582.28,82.99L582.68,82.54L583.08,82.08L583.48,81.61L583.89,81.13L584.3,80.64L584.72,80.14L585.15,79.62L585.58,79.09L586.02,78.54L586.47,77.98L586.93,77.41L587.39,76.83L587.86,76.24L588.33,75.65L588.81,75.05L589.29,74.44L589.77,73.84L590.25,73.23L590.74,72.63L591.23,72.03L591.72,71.43L592.2,70.84L592.69,70.25L593.18,69.67L593.66,69.1L594.14,68.54L594.63,67.98L595.11,67.43L595.59,66.89L596.08,66.35L596.56,65.82L597.05,65.29L597.53,64.77L598.02,64.25L598.51,63.73L599,63.22L599.49,62.72L599.98,62.22L600.48,61.72L600.97,61.22L601.47,60.73L601.97,60.24L602.48,59.76L602.98,59.27L603.49,58.79L604,58.32L604.5,57.84L605.02,57.37L605.53,56.9L606.04,56.44L606.55,55.98L607.07,55.52L607.58,55.06L608.1,54.61L608.62,54.16L609.14,53.71L609.66,53.27L610.18,52.83L610.7,52.4L611.22,51.97L611.75,51.55L612.27,51.13L612.8,50.73L613.33,50.33L613.86,49.93L614.39,49.55L614.92,49.18L615.45,48.81L615.99,48.45L616.53,48.1L617.07,47.76L617.61,47.43L618.16,47.1L618.71,46.78L619.26,46.46L619.82,46.15L620.38,45.84L620.95,45.54L621.52,45.25L622.09,44.95L622.67,44.67L623.25,44.38L623.83,44.1L624.42,43.82L625,43.56L625.58,43.29L626.16,43.04L626.73,42.79L627.29,42.55L627.85,42.32L628.4,42.09L628.93,41.88L629.46,41.68L629.97,41.49L630.47,41.3L630.97,41.13L631.46,40.96L631.94,40.79L632.43,40.63L632.92,40.47L633.42,40.31L633.93,40.14L634.45,39.98L634.98,39.81L635.54,39.63L636.1,39.44L636.68,39.26L637.28,39.07L637.88,38.88L638.49,38.69L639.11,38.5L639.74,38.31L640.37,38.12L641,37.94L641.63,37.77L642.26,37.61L642.88,37.45L643.5,37.31L644.12,37.17L644.73,37.04L645.34,36.93L645.94,36.82L646.54,36.71L647.14,36.62L647.73,36.52L648.33,36.44L648.92,36.35L649.52,36.27L650.11,36.19L650.71,36.11L651.31,36.03L651.91,35.96L652.51,35.88L653.12,35.8L653.72,35.72L654.33,35.64L654.94,35.57L655.55,35.49L656.16,35.41L656.77,35.33L657.38,35.26L657.99,35.18L658.6,35.1" fill="none" stroke="#1410b8" stroke-width="1.7"/>
<path d="M394.8,208.7L396.23,208.7L397.66,208.7L399.09,208.7L400.51,208.7L401.94,208.7L403.36,208.7L404.77,208.7L406.18,208.7L407.59,208.7L408.99,208.7L410.38,208.7L411.77,208.7L413.15,208.7L414.52,208.71L415.88,208.71L417.23,208.71L418.57,208.72L419.9,208.72L421.22,208.72L422.53,208.73L423.82,208.74L425.1,208.74L426.36,208.75L427.61,208.76L428.84,208.77L430.06,208.78L431.26,208.79L432.44,208.8L433.61,208.81L434.75,208.82L435.88,208.84L436.99,208.85L438.07,208.87L439.13,208.88L440.17,208.9L441.19,208.92L442.19,208.94L443.16,208.96L444.12,208.98L445.05,209.01L445.97,209.03L446.87,209.05L447.75,209.07L448.61,209.1L449.46,209.12L450.29,209.14L451.11,209.16L451.91,209.18L452.7,209.2L453.48,209.22L454.25,209.23L455,209.25L455.75,209.26L456.49,209.27L457.21,209.28L457.93,209.29L458.65,209.3L459.35,209.3L460.05,209.3L460.75,209.3L461.43,209.3L462.11,209.3L462.78,209.3L463.45,209.3L464.11,209.3L464.76,209.31L465.4,209.31L466.03,209.32L466.66,209.33L467.27,209.35L467.88,209.37L468.48,209.4L469.07,209.43L469.65,209.47L470.21,209.52L470.77,209.57L471.32,209.63L471.86,209.71L472.4,209.78L472.92,209.87L473.43,209.97L473.93,210.07L474.43,210.19L474.92,210.31L475.39,210.45L475.87,210.59L476.33,210.75L476.78,210.92L477.23,211.09L477.67,211.28L478.1,211.48L478.53,211.7L478.95,211.92L479.37,212.16L479.78,212.41L480.18,212.67L480.58,212.94L480.97,213.22L481.36,213.52L481.75,213.83L482.14,214.16L482.52,214.49L482.9,214.84L483.27,215.21L483.64,215.58L484.01,215.97L484.38,216.37L484.74,216.78L485.1,217.2L485.46,217.63L485.81,218.08L486.16,218.53L486.5,219L486.84,219.47L487.17,219.96L487.5,220.45L487.83,220.96L488.15,221.47L488.47,221.99L488.78,222.53L489.09,223.07L489.4,223.62L489.7,224.18L490,224.74L490.29,225.32L490.59,225.91L490.88,226.5L491.17,227.11L491.45,227.72L491.73,228.34L492.01,228.97L492.29,229.61L492.57,230.26L492.85,230.92L493.12,231.58L493.4,232.25L493.67,232.93L493.94,233.62L494.21,234.31L494.48,235.01L494.75,235.71L495.02,236.42L495.28,237.13L495.55,237.84L495.81,238.55L496.07,239.27L496.33,239.98L496.59,240.7L496.85,241.41L497.1,242.13L497.36,242.84L497.61,243.54L497.87,244.25L498.12,244.95L498.37,245.64L498.62,246.33L498.86,247.02L499.11,247.7L499.35,248.37L499.6,249.05L499.84,249.71L500.08,250.37L500.31,251.03L500.55,251.68L500.79,252.33L501.02,252.97L501.25,253.61L501.48,254.25L501.7,254.88L501.93,255.5L502.15,256.12L502.37,256.74L502.59,257.35L502.81,257.96L503.02,258.56L503.23,259.17L503.44,259.77L503.65,260.36L503.85,260.96L504.06,261.56L504.26,262.17L504.46,262.77L504.66,263.37L504.86,263.98L505.06,264.6L505.25,265.22L505.45,265.84L505.64,266.48L505.83,267.12L506.02,267.77L506.21,268.42L506.4,269.08L506.59,269.73L506.78,270.36L506.97,270.97L507.16,271.56L507.36,272.1L507.56,272.6L507.77,273.05L507.98,273.43L508.19,273.75L508.41,273.99L508.64,274.14L508.88,274.21L509.12,274.18L509.37,274.07L509.62,273.87L509.87,273.6L510.13,273.26L510.38,272.86L510.62,272.41L510.86,271.91L511.1,271.37L511.32,270.8L511.53,270.2L511.73,269.58L511.92,268.94L512.09,268.29L512.25,267.62L512.4,266.94L512.54,266.24L512.67,265.54L512.8,264.82L512.91,264.09L513.02,263.35L513.12,262.6L513.21,261.84L513.3,261.07L513.39,260.3L513.48,259.53L513.56,258.74L513.64,257.96L513.72,257.17L513.8,256.38L513.88,255.59L513.96,254.8L514.05,254.01L514.14,253.22L514.22,252.42L514.32,251.63L514.41,250.84L514.5,250.04L514.6,249.24L514.69,248.45L514.79,247.65L514.89,246.85L514.99,246.04L515.08,245.24L515.19,244.43L515.29,243.62L515.39,242.8L515.49,241.98L515.59,241.16L515.69,240.34L515.79,239.51L515.89,238.68L515.99,237.84L516.1,237L516.2,236.16L516.3,235.31L516.39,234.46L516.49,233.6L516.59,232.74L516.69,231.88L516.79,231.01L516.89,230.14L516.98,229.26L517.08,228.38L517.18,227.5L517.27,226.61L517.37,225.72L517.46,224.82L517.56,223.93L517.65,223.03L517.75,222.12L517.84,221.21L517.93,220.3L518.03,219.39L518.12,218.47L518.21,217.55L518.31,216.63L518.4,215.7L518.49,214.77L518.58,213.84L518.68,212.91L518.77,211.97L518.86,211.04L518.95,210.1L519.04,209.17L519.13,208.23L519.23,207.3L519.32,206.37L519.41,205.44L519.5,204.51L519.59,203.58L519.69,202.65L519.78,201.73L519.87,200.82L519.96,199.9L520.06,198.99L520.15,198.09L520.25,197.19L520.34,196.3L520.44,195.41L520.53,194.53L520.63,193.66L520.72,192.79L520.82,191.93L520.92,191.08L521.01,190.23L521.11,189.4L521.21,188.56L521.31,187.74L521.41,186.91L521.5,186.1L521.6,185.29L521.7,184.49L521.8,183.69L521.9,182.89L521.99,182.1L522.09,181.32L522.18,180.54L522.28,179.77L522.37,178.99L522.47,178.23L522.56,177.46L522.65,176.7L522.74,175.95L522.83,175.2L522.92,174.45L523.01,173.7L523.11,172.96L523.2,172.22L523.3,171.49L523.41,170.76L523.52,170.03L523.63,169.31L523.75,168.59L523.88,167.88L524.02,167.17L524.16,166.47L524.32,165.77L524.49,165.08L524.67,164.39L524.86,163.71L525.06,163.03L525.28,162.36L525.51,161.69L525.76,161.03L526.02,160.4L526.29,159.78L526.57,159.19L526.86,158.64L527.16,158.12L527.46,157.65L527.77,157.23L528.08,156.87L528.39,156.57L528.71,156.34L529.02,156.18L529.33,156.11L529.64,156.11L529.95,156.2L530.25,156.37L530.55,156.6L530.85,156.89L531.14,157.23L531.43,157.63L531.71,158.06L531.98,158.53L532.25,159.02L532.52,159.53L532.78,160.06L533.03,160.59L533.28,161.13L533.52,161.67L533.76,162.22L533.99,162.77L534.22,163.33L534.45,163.89L534.67,164.46L534.89,165.04L535.1,165.62L535.32,166.2L535.53,166.79L535.74,167.39L535.95,167.99L536.16,168.6L536.37,169.22L536.58,169.83L536.79,170.46L537,171.09L537.21,171.72L537.42,172.36L537.63,173L537.84,173.64L538.06,174.28L538.27,174.93L538.48,175.57L538.69,176.21L538.9,176.85L539.12,177.49L539.33,178.13L539.54,178.77L539.75,179.4L539.97,180.02L540.18,180.64L540.39,181.26L540.6,181.86L540.81,182.47L541.02,183.06L541.24,183.65L541.46,184.23L541.67,184.81L541.9,185.38L542.12,185.94L542.35,186.5L542.59,187.05L542.83,187.6L543.07,188.14L543.32,188.67L543.58,189.2L543.85,189.72L544.12,190.24L544.4,190.75L544.69,191.25L544.99,191.74L545.29,192.23L545.6,192.7L545.92,193.17L546.24,193.62L546.56,194.07L546.9,194.5L547.23,194.91L547.57,195.31L547.92,195.7L548.26,196.07L548.61,196.42L548.97,196.76L549.32,197.07L549.68,197.37L550.05,197.65L550.42,197.91L550.79,198.16L551.18,198.38L551.58,198.59L551.98,198.77L552.4,198.94L552.84,199.09L553.28,199.22L553.75,199.33L554.23,199.43L554.72,199.5L555.23,199.57L555.75,199.61L556.28,199.65L556.83,199.68L557.38,199.69L557.94,199.7L558.5,199.71L559.08,199.71L559.65,199.7L560.23,199.7L560.81,199.7L561.4,199.7L561.98,199.7L562.56,199.71L563.14,199.72L563.72,199.74L564.3,199.76L564.87,199.78L565.45,199.81L566.02,199.84L566.59,199.87L567.16,199.9L567.72,199.93L568.28,199.97L568.84,200L569.4,200.04L569.95,200.08L570.5,200.11L571.04,200.15L571.58,200.19L572.12,200.23L572.66,200.26L573.19,200.31L573.72,200.35L574.25,200.39L574.77,200.44L575.29,200.49L575.81,200.55L576.33,200.61L576.85,200.67L577.36,200.74L577.87,200.81L578.39,200.89L578.9,200.97L579.41,201.06L579.92,201.16L580.44,201.26L580.95,201.36L581.47,201.47L581.99,201.59L582.52,201.71L583.05,201.83L583.59,201.96L584.13,202.09L584.68,202.22L585.23,202.36L585.8,202.5L586.37,202.64L586.95,202.79L587.53,202.94L588.11,203.09L588.69,203.24L589.27,203.39L589.85,203.54L590.43,203.68L591,203.83L591.56,203.97L592.11,204.11L592.65,204.25L593.18,204.38L593.69,204.5L594.19,204.62L594.67,204.73L595.14,204.84L595.6,204.94L596.05,205.04L596.5,205.13L596.94,205.22L597.39,205.3L597.84,205.38L598.29,205.45L598.76,205.53L599.24,205.6L599.74,205.67L600.26,205.73L600.79,205.8L601.35,205.86L601.92,205.92L602.51,205.98L603.1,206.04L603.71,206.1L604.33,206.16L604.96,206.21L605.59,206.27L606.23,206.32L606.87,206.37L607.51,206.42L608.15,206.47L608.79,206.51L609.42,206.56L610.05,206.6L610.67,206.65L611.28,206.69L611.88,206.73L612.49,206.77L613.09,206.81L613.7,206.84L614.3,206.88L614.91,206.91L615.52,206.95L616.14,206.98L616.77,207.02L617.4,207.05L618.05,207.08L618.71,207.11L619.38,207.14L620.07,207.17L620.78,207.2L621.51,207.23L622.25,207.26L623.01,207.29L623.79,207.32L624.58,207.35L625.38,207.38L626.2,207.41L627.03,207.44L627.86,207.47L628.71,207.49L629.57,207.52L630.43,207.55L631.3,207.57L632.18,207.6L633.05,207.62L633.94,207.65L634.82,207.67L635.71,207.7L636.59,207.72L637.48,207.75L638.36,207.77L639.24,207.79L640.11,207.81L640.98,207.83L641.85,207.85L642.71,207.87L643.57,207.89L644.42,207.91L645.28,207.93L646.12,207.95L646.97,207.97L647.81,207.99L648.65,208L649.49,208.02L650.32,208.04L651.16,208.06L651.99,208.07L652.82,208.09L653.65,208.1L654.48,208.12L655.3,208.14L656.13,208.15L656.95,208.17L657.78,208.18L658.6,208.2" fill="none" stroke="#d81c20" stroke-width="1.7"/>
<path d="M394.8,208.6L396.54,208.6L398.27,208.61L400.01,208.61L401.74,208.62L403.46,208.62L405.19,208.62L406.9,208.63L408.61,208.63L410.32,208.64L412.01,208.64L413.7,208.65L415.37,208.65L417.04,208.65L418.69,208.66L420.33,208.66L421.95,208.67L423.57,208.67L425.16,208.68L426.74,208.68L428.3,208.69L429.84,208.7L431.36,208.7L432.87,208.71L434.35,208.71L435.81,208.72L437.24,208.73L438.65,208.73L440.04,208.74L441.4,208.75L442.74,208.75L444.04,208.76L445.32,208.77L446.57,208.78L447.79,208.78L448.97,208.79L450.13,208.8L451.25,208.81L452.34,208.82L453.4,208.83L454.43,208.84L455.44,208.85L456.42,208.86L457.38,208.87L458.32,208.89L459.25,208.9L460.15,208.92L461.05,208.93L461.93,208.95L462.8,208.97L463.66,208.99L464.51,209.01L465.36,209.04L466.2,209.06L467.04,209.09L467.88,209.12L468.73,209.15L469.58,209.18L470.43,209.22L471.29,209.26L472.16,209.3L473.03,209.34L473.9,209.38L474.78,209.43L475.66,209.48L476.54,209.53L477.42,209.58L478.31,209.64L479.19,209.7L480.07,209.76L480.94,209.82L481.82,209.89L482.69,209.95L483.55,210.03L484.41,210.1L485.27,210.17L486.11,210.25L486.95,210.33L487.78,210.42L488.6,210.5L489.41,210.59L490.21,210.69L491.01,210.78L491.79,210.88L492.57,210.99L493.35,211.09L494.12,211.21L494.88,211.32L495.64,211.44L496.4,211.57L497.15,211.7L497.9,211.84L498.65,211.98L499.39,212.13L500.14,212.28L500.88,212.44L501.62,212.61L502.37,212.78L503.11,212.96L503.85,213.14L504.59,213.33L505.33,213.52L506.06,213.72L506.79,213.91L507.52,214.11L508.24,214.31L508.96,214.51L509.67,214.71L510.37,214.91L511.07,215.11L511.76,215.3L512.44,215.49L513.1,215.68L513.76,215.86L514.41,216.04L515.05,216.21L515.68,216.38L516.3,216.55L516.91,216.71L517.52,216.88L518.12,217.04L518.71,217.21L519.3,217.38L519.89,217.55L520.47,217.74L521.05,217.92L521.63,218.12L522.21,218.32L522.79,218.53L523.37,218.76L523.96,218.99L524.54,219.23L525.12,219.48L525.71,219.73L526.3,219.98L526.89,220.23L527.48,220.48L528.07,220.73L528.67,220.97L529.27,221.21L529.87,221.44L530.47,221.65L531.07,221.86L531.68,222.06L532.29,222.24L532.9,222.4L533.51,222.56L534.12,222.7L534.73,222.84L535.34,222.96L535.94,223.08L536.54,223.19L537.14,223.3L537.73,223.41L538.32,223.51L538.9,223.61L539.47,223.71L540.03,223.81L540.58,223.91L541.13,224.01L541.67,224.11L542.2,224.2L542.72,224.29L543.25,224.37L543.77,224.45L544.28,224.51L544.8,224.56L545.31,224.59L545.82,224.61L546.34,224.6L546.86,224.58L547.38,224.54L547.9,224.48L548.43,224.4L548.95,224.3L549.48,224.19L550,224.05L550.52,223.91L551.04,223.74L551.56,223.57L552.08,223.38L552.59,223.17L553.1,222.96L553.6,222.73L554.1,222.49L554.6,222.24L555.09,221.99L555.58,221.72L556.07,221.44L556.56,221.15L557.04,220.85L557.53,220.54L558.01,220.22L558.5,219.9L558.98,219.56L559.47,219.22L559.96,218.87L560.45,218.51L560.94,218.15L561.42,217.78L561.91,217.4L562.39,217.02L562.86,216.63L563.33,216.24L563.8,215.84L564.25,215.45L564.69,215.05L565.13,214.65L565.55,214.24L565.96,213.84L566.35,213.44L566.74,213.04L567.11,212.64L567.47,212.24L567.82,211.84L568.16,211.44L568.5,211.04L568.84,210.64L569.17,210.25L569.5,209.85L569.83,209.46L570.15,209.07L570.49,208.68L570.82,208.29L571.16,207.91L571.5,207.52L571.85,207.13L572.19,206.75L572.54,206.36L572.9,205.97L573.25,205.58L573.61,205.18L573.98,204.79L574.34,204.38L574.71,203.98L575.08,203.57L575.46,203.15L575.84,202.74L576.22,202.32L576.61,201.9L577,201.48L577.4,201.07L577.81,200.65L578.22,200.24L578.64,199.83L579.07,199.43L579.51,199.03L579.95,198.64L580.4,198.26L580.86,197.89L581.33,197.52L581.81,197.16L582.29,196.82L582.77,196.48L583.26,196.15L583.75,195.84L584.25,195.53L584.74,195.24L585.23,194.96L585.72,194.7L586.21,194.44L586.69,194.21L587.18,193.98L587.65,193.77L588.13,193.57L588.6,193.39L589.07,193.21L589.54,193.05L590.01,192.91L590.48,192.77L590.95,192.64L591.41,192.53L591.88,192.42L592.35,192.33L592.82,192.25L593.29,192.17L593.76,192.11L594.23,192.05L594.69,192L595.16,191.97L595.62,191.94L596.07,191.92L596.52,191.9L596.97,191.9L597.4,191.9L597.83,191.92L598.26,191.94L598.68,191.96L599.09,192L599.5,192.05L599.91,192.1L600.31,192.17L600.7,192.24L601.09,192.32L601.48,192.41L601.86,192.51L602.25,192.62L602.64,192.74L603.03,192.87L603.43,193.01L603.84,193.16L604.26,193.32L604.7,193.48L605.15,193.66L605.62,193.84L606.1,194.03L606.59,194.23L607.1,194.44L607.62,194.65L608.15,194.87L608.68,195.08L609.23,195.31L609.77,195.53L610.32,195.76L610.88,195.98L611.43,196.21L611.98,196.43L612.53,196.66L613.08,196.88L613.63,197.1L614.17,197.31L614.71,197.53L615.26,197.74L615.8,197.96L616.34,198.17L616.88,198.38L617.42,198.59L617.96,198.79L618.5,199L619.04,199.2L619.59,199.41L620.13,199.61L620.67,199.81L621.22,200.01L621.77,200.21L622.31,200.4L622.86,200.6L623.41,200.79L623.96,200.98L624.5,201.17L625.05,201.36L625.6,201.54L626.15,201.72L626.7,201.9L627.25,202.08L627.8,202.25L628.35,202.42L628.9,202.59L629.45,202.75L630,202.91L630.55,203.07L631.1,203.23L631.66,203.38L632.21,203.53L632.77,203.67L633.32,203.81L633.88,203.95L634.44,204.08L634.99,204.21L635.55,204.33L636.11,204.46L636.67,204.57L637.23,204.69L637.79,204.8L638.35,204.91L638.91,205.02L639.47,205.13L640.02,205.23L640.58,205.33L641.13,205.43L641.68,205.53L642.23,205.63L642.77,205.73L643.32,205.82L643.87,205.91L644.42,206.01L644.97,206.1L645.52,206.19L646.08,206.28L646.64,206.37L647.21,206.45L647.79,206.54L648.37,206.62L648.96,206.71L649.56,206.79L650.17,206.87L650.79,206.96L651.41,207.04L652.05,207.12L652.68,207.2L653.33,207.28L653.97,207.36L654.63,207.43L655.28,207.51L655.94,207.59L656.61,207.67L657.27,207.75L657.93,207.82L658.6,207.9" fill="none" stroke="#1410b8" stroke-width="1.9"/>
<text x="436.6" y="299.8" font-size="14.3" text-anchor="middle" fill="#111" stroke="#111" stroke-width="0.25" font-family='"Liberation Sans", sans-serif' font-weight="normal" >200</text>
<text x="492.3" y="299.8" font-size="14.3" text-anchor="middle" fill="#111" stroke="#111" stroke-width="0.25" font-family='"Liberation Sans", sans-serif' font-weight="normal" >400</text>
<text x="548" y="299.8" font-size="14.3" text-anchor="middle" fill="#111" stroke="#111" stroke-width="0.25" font-family='"Liberation Sans", sans-serif' font-weight="normal" >600</text>
<text x="603.7" y="299.8" font-size="14.3" text-anchor="middle" fill="#111" stroke="#111" stroke-width="0.25" font-family='"Liberation Sans", sans-serif' font-weight="normal" >800</text>
<text x="659.4" y="299.8" font-size="14.3" text-anchor="middle" fill="#111" stroke="#111" stroke-width="0.25" font-family='"Liberation Sans", sans-serif' font-weight="normal" >1000</text>
<text x="392.4" y="37.5" font-size="14.3" text-anchor="end" fill="#111" stroke="#111" stroke-width="0.25" font-family='"Liberation Sans", sans-serif' font-weight="normal" >0.00</text>
<text x="392.4" y="75.25" font-size="14.3" text-anchor="end" fill="#111" stroke="#111" stroke-width="0.25" font-family='"Liberation Sans", sans-serif' font-weight="normal" >-0.03</text>
<text x="392.4" y="113" font-size="14.3" text-anchor="end" fill="#111" stroke="#111" stroke-width="0.25" font-family='"Liberation Sans", sans-serif' font-weight="normal" >-0.06</text>
<text x="392.4" y="182.2" font-size="14.3" text-anchor="end" fill="#111" stroke="#111" stroke-width="0.25" font-family='"Liberation Sans", sans-serif' font-weight="normal" >0.05</text>
<text x="392.4" y="213.6" font-size="14.3" text-anchor="end" fill="#111" stroke="#111" stroke-width="0.25" font-family='"Liberation Sans", sans-serif' font-weight="normal" >0.00</text>
<text x="392.4" y="245" font-size="14.3" text-anchor="end" fill="#111" stroke="#111" stroke-width="0.25" font-family='"Liberation Sans", sans-serif' font-weight="normal" >-0.05</text>
<text x="392.4" y="276.4" font-size="14.3" text-anchor="end" fill="#111" stroke="#111" stroke-width="0.25" font-family='"Liberation Sans", sans-serif' font-weight="normal" >-0.10</text>
<text x="393.4" y="18.8" font-size="11.3" text-anchor="end" fill="#111" stroke="#111" stroke-width="0.25" font-family='"Liberation Sans", sans-serif' font-weight="bold" >X10</text>
<text x="393.2" y="158.3" font-size="11.3" text-anchor="end" fill="#111" stroke="#111" stroke-width="0.25" font-family='"Liberation Sans", sans-serif' font-weight="bold" >X1000</text>
<text x="640" y="25.3" font-size="15.3" text-anchor="start" fill="#111" stroke="#111" stroke-width="0.25" font-family='"Liberation Sans", sans-serif' font-weight="normal" >1<tspan font-size="8.6" dy="-8.5" dx="-0.8">st</tspan></text>
<text x="638.8" y="164" font-size="15.3" text-anchor="start" fill="#111" stroke="#111" stroke-width="0.25" font-family='"Liberation Sans", sans-serif' font-weight="normal" >2<tspan font-size="8.6" dy="-8.5" dx="-0.3">nd</tspan></text>
<line x1="397.3" y1="116.4" x2="427" y2="116.4" stroke="#d81c20" stroke-width="1.7" />
<line x1="397.3" y1="134.3" x2="427" y2="134.3" stroke="#1410b8" stroke-width="1.7" />
<text x="430.8" y="120.9" font-size="13" text-anchor="start" fill="#111" stroke="#111" stroke-width="0.25" font-family='"Liberation Sans", sans-serif' font-weight="normal" >Dry condition</text>
<text x="430.8" y="138.4" font-size="13" text-anchor="start" fill="#111" stroke="#111" stroke-width="0.25" font-family='"Liberation Sans", sans-serif' font-weight="normal" >Wet condition</text>
<text x="574.3" y="186.6" font-size="13" text-anchor="start" fill="#218a21" stroke="#218a21" stroke-width="0.25" font-family='"Liberation Sans", sans-serif' font-weight="normal" >Depletion</text>
<text x="521.6" y="242.3" font-size="13" text-anchor="start" fill="#7f25de" stroke="#7f25de" stroke-width="0.25" font-family='"Liberation Sans", sans-serif' font-weight="normal" >Accumulation</text>
<g transform="translate(504.3,330.8) scale(0.9,1)">
<text x="0" y="0" font-size="18.8" text-anchor="start" fill="#111" stroke="#111" stroke-width="0.25" font-family='"Liberation Sans", sans-serif' font-weight="normal" >T (<tspan font-size="11.5" dy="-9" dx="0.6">o</tspan><tspan dy="9" dx="0.6">C)</tspan></text>
</g>
<text transform="translate(353.4,152.4) rotate(-90)" text-anchor="middle" font-size="19.2" font-family='"Liberation Sans", sans-serif' fill="#111" stroke="#111" stroke-width="0.25">Differential weight</text>
<text x="361" y="329.2" font-size="28.6" text-anchor="start" fill="#111" stroke="#111" stroke-width="0.25" font-family='"Liberation Serif", serif' font-weight="normal" >(b)</text>
</g>
<g id="pc">
<line x1="73.74" y1="680" x2="73.74" y2="678" stroke="#666" stroke-width="0.8" />
<line x1="98.88" y1="680" x2="98.88" y2="677" stroke="#666" stroke-width="0.8" />
<line x1="124.02" y1="680" x2="124.02" y2="678" stroke="#666" stroke-width="0.8" />
<line x1="149.16" y1="680" x2="149.16" y2="677" stroke="#666" stroke-width="0.8" />
<line x1="174.3" y1="680" x2="174.3" y2="678" stroke="#666" stroke-width="0.8" />
<line x1="199.44" y1="680" x2="199.44" y2="677" stroke="#666" stroke-width="0.8" />
<line x1="224.58" y1="680" x2="224.58" y2="678" stroke="#666" stroke-width="0.8" />
<line x1="249.72" y1="680" x2="249.72" y2="677" stroke="#666" stroke-width="0.8" />
<line x1="274.86" y1="680" x2="274.86" y2="678" stroke="#666" stroke-width="0.8" />
<line x1="300" y1="680" x2="300" y2="677" stroke="#666" stroke-width="0.8" />
<line x1="48.6" y1="655.3" x2="51.6" y2="655.3" stroke="#666" stroke-width="0.8" />
<line x1="48.6" y1="617.25" x2="50.6" y2="617.25" stroke="#666" stroke-width="0.8" />
<line x1="48.6" y1="579.2" x2="51.6" y2="579.2" stroke="#666" stroke-width="0.8" />
<line x1="48.6" y1="541.15" x2="50.6" y2="541.15" stroke="#666" stroke-width="0.8" />
<line x1="48.6" y1="503.1" x2="51.6" y2="503.1" stroke="#666" stroke-width="0.8" />
<line x1="48.6" y1="465.05" x2="50.6" y2="465.05" stroke="#666" stroke-width="0.8" />
<line x1="48.6" y1="427" x2="51.6" y2="427" stroke="#666" stroke-width="0.8" />
<rect x="48.6" y="402.1" width="264" height="277.9" fill="none" stroke="#8a8a8a" stroke-width="1" />
<path d="M48.6,640.4L49.54,640.4L50.48,640.4L51.42,640.4L52.36,640.4L53.3,640.4L54.24,640.4L55.18,640.4L56.13,640.4L57.07,640.4L58.01,640.4L58.96,640.4L59.9,640.4L60.85,640.4L61.8,640.4L62.75,640.4L63.7,640.4L64.65,640.4L65.6,640.4L66.55,640.4L67.51,640.4L68.47,640.4L69.43,640.4L70.39,640.4L71.35,640.4L72.32,640.4L73.29,640.4L74.26,640.4L75.23,640.4L76.2,640.4L77.18,640.4L78.16,640.4L79.14,640.4L80.13,640.4L81.11,640.4L82.1,640.4L83.1,640.4L84.09,640.4L85.08,640.4L86.07,640.4L87.07,640.4L88.06,640.4L89.05,640.4L90.03,640.4L91.02,640.4L92,640.39L92.97,640.39L93.95,640.39L94.91,640.39L95.87,640.39L96.83,640.38L97.77,640.38L98.71,640.38L99.65,640.37L100.57,640.37L101.48,640.37L102.39,640.36L103.28,640.36L104.17,640.35L105.04,640.35L105.9,640.34L106.75,640.33L107.58,640.33L108.4,640.32L109.21,640.31L110,640.3L110.77,640.29L111.54,640.28L112.28,640.27L113.02,640.26L113.74,640.25L114.45,640.24L115.14,640.23L115.83,640.22L116.5,640.21L117.17,640.2L117.82,640.19L118.47,640.19L119.1,640.18L119.74,640.18L120.36,640.17L120.98,640.17L121.59,640.17L122.19,640.17L122.79,640.17L123.39,640.18L123.98,640.18L124.57,640.19L125.16,640.2L125.75,640.22L126.33,640.23L126.91,640.25L127.49,640.26L128.06,640.27L128.63,640.28L129.2,640.29L129.76,640.3L130.31,640.3L130.85,640.29L131.39,640.28L131.92,640.26L132.45,640.23L132.96,640.19L133.47,640.14L133.96,640.09L134.45,640.02L134.93,639.93L135.39,639.84L135.85,639.73L136.29,639.61L136.73,639.47L137.15,639.32L137.58,639.15L137.99,638.97L138.4,638.78L138.81,638.57L139.21,638.35L139.62,638.12L140.02,637.87L140.42,637.61L140.82,637.33L141.23,637.03L141.63,636.73L142.05,636.41L142.46,636.07L142.88,635.72L143.3,635.36L143.73,634.98L144.15,634.6L144.57,634.2L145,633.79L145.42,633.38L145.84,632.95L146.25,632.52L146.66,632.08L147.07,631.63L147.47,631.17L147.87,630.71L148.26,630.25L148.64,629.77L149.01,629.3L149.37,628.82L149.73,628.34L150.07,627.86L150.4,627.38L150.72,626.89L151.03,626.4L151.33,625.91L151.62,625.42L151.9,624.92L152.17,624.43L152.44,623.92L152.7,623.42L152.95,622.91L153.19,622.4L153.43,621.88L153.66,621.36L153.89,620.83L154.11,620.3L154.32,619.77L154.54,619.23L154.75,618.68L154.95,618.13L155.15,617.57L155.36,617.01L155.55,616.44L155.75,615.87L155.94,615.29L156.13,614.7L156.32,614.11L156.51,613.52L156.7,612.92L156.88,612.31L157.07,611.7L157.25,611.08L157.43,610.46L157.61,609.84L157.79,609.21L157.97,608.57L158.15,607.93L158.33,607.29L158.51,606.64L158.69,605.99L158.87,605.34L159.05,604.68L159.23,604.02L159.41,603.35L159.59,602.68L159.78,602.01L159.96,601.33L160.14,600.65L160.32,599.97L160.5,599.28L160.68,598.6L160.86,597.91L161.04,597.22L161.21,596.52L161.39,595.83L161.56,595.13L161.73,594.43L161.9,593.73L162.07,593.04L162.24,592.33L162.41,591.63L162.57,590.93L162.73,590.23L162.88,589.53L163.04,588.83L163.19,588.13L163.34,587.42L163.48,586.72L163.62,586.02L163.76,585.33L163.9,584.63L164.03,583.93L164.16,583.23L164.29,582.53L164.42,581.84L164.54,581.14L164.66,580.45L164.79,579.75L164.91,579.06L165.02,578.36L165.14,577.67L165.26,576.97L165.37,576.28L165.49,575.59L165.6,574.89L165.72,574.2L165.83,573.51L165.95,572.81L166.06,572.12L166.18,571.43L166.29,570.74L166.41,570.04L166.53,569.35L166.64,568.66L166.76,567.97L166.88,567.28L167,566.58L167.12,565.89L167.24,565.2L167.36,564.5L167.48,563.81L167.6,563.12L167.72,562.42L167.84,561.73L167.96,561.03L168.08,560.34L168.2,559.64L168.33,558.94L168.45,558.24L168.57,557.55L168.69,556.85L168.8,556.15L168.92,555.45L169.04,554.75L169.16,554.04L169.28,553.34L169.39,552.64L169.51,551.93L169.62,551.22L169.74,550.52L169.85,549.81L169.97,549.11L170.08,548.4L170.19,547.7L170.31,546.99L170.42,546.29L170.53,545.59L170.64,544.89L170.75,544.19L170.86,543.49L170.97,542.79L171.08,542.1L171.19,541.41L171.3,540.72L171.4,540.03L171.51,539.35L171.62,538.67L171.73,537.99L171.83,537.31L171.94,536.64L172.05,535.97L172.15,535.31L172.26,534.64L172.36,533.98L172.47,533.32L172.57,532.66L172.68,531.99L172.78,531.33L172.88,530.66L172.99,529.99L173.09,529.32L173.19,528.64L173.29,527.95L173.38,527.26L173.48,526.57L173.58,525.86L173.68,525.15L173.77,524.43L173.86,523.7L173.96,522.96L174.05,522.21L174.14,521.45L174.23,520.67L174.31,519.88L174.4,519.08L174.48,518.26L174.57,517.44L174.65,516.6L174.73,515.75L174.81,514.89L174.89,514.02L174.98,513.14L175.06,512.26L175.14,511.37L175.22,510.47L175.3,509.57L175.38,508.66L175.46,507.74L175.54,506.83L175.62,505.91L175.7,504.99L175.79,504.06L175.87,503.14L175.96,502.22L176.05,501.3L176.14,500.37L176.23,499.46L176.32,498.54L176.42,497.63L176.52,496.72L176.62,495.82L176.72,494.92L176.82,494.03L176.93,493.15L177.04,492.28L177.15,491.41L177.27,490.56L177.39,489.71L177.51,488.87L177.63,488.04L177.76,487.21L177.88,486.4L178.01,485.59L178.14,484.79L178.27,484L178.4,483.22L178.53,482.45L178.67,481.68L178.8,480.92L178.93,480.17L179.07,479.43L179.2,478.7L179.33,477.97L179.47,477.26L179.6,476.55L179.73,475.85L179.86,475.15L179.99,474.47L180.12,473.79L180.24,473.12L180.37,472.46L180.49,471.81L180.61,471.16L180.73,470.52L180.85,469.89L180.97,469.26L181.09,468.64L181.2,468.02L181.32,467.4L181.44,466.79L181.55,466.18L181.67,465.57L181.79,464.96L181.91,464.35L182.03,463.75L182.16,463.14L182.28,462.53L182.41,461.92L182.54,461.3L182.68,460.69L182.81,460.06L182.95,459.44L183.1,458.81L183.25,458.17L183.4,457.53L183.55,456.88L183.71,456.23L183.87,455.58L184.03,454.93L184.2,454.28L184.36,453.63L184.52,452.99L184.69,452.34L184.85,451.7L185.02,451.07L185.18,450.44L185.34,449.82L185.5,449.21L185.65,448.61L185.81,448.02L185.96,447.44L186.1,446.87L186.24,446.31L186.38,445.77L186.51,445.25L186.64,444.74L186.76,444.25L186.88,443.77L187,443.3L187.11,442.85L187.22,442.4L187.34,441.97L187.46,441.54L187.58,441.12L187.7,440.71L187.83,440.31L187.96,439.9L188.11,439.5L188.26,439.1L188.41,438.71L188.58,438.31L188.76,437.91L188.95,437.51L189.15,437.11L189.36,436.72L189.57,436.33L189.8,435.95L190.03,435.57L190.27,435.2L190.51,434.84L190.76,434.48L191.02,434.14L191.28,433.81L191.54,433.5L191.81,433.2L192.08,432.91L192.36,432.64L192.63,432.39L192.91,432.16L193.2,431.96L193.49,431.77L193.78,431.61L194.08,431.47L194.39,431.36L194.69,431.27L195.01,431.22L195.33,431.2L195.65,431.21L195.98,431.25L196.31,431.31L196.64,431.41L196.97,431.53L197.3,431.67L197.62,431.83L197.93,432.01L198.24,432.2L198.53,432.41L198.81,432.64L199.08,432.87L199.33,433.12L199.57,433.37L199.8,433.64L200.02,433.91L200.22,434.2L200.42,434.49L200.61,434.8L200.79,435.11L200.97,435.44L201.14,435.77L201.31,436.11L201.49,436.47L201.66,436.83L201.83,437.21L202,437.59L202.16,437.99L202.33,438.39L202.5,438.81L202.67,439.24L202.84,439.67L203,440.12L203.17,440.58L203.33,441.05L203.5,441.53L203.66,442.02L203.82,442.52L203.97,443.03L204.13,443.56L204.28,444.09L204.44,444.64L204.59,445.2L204.74,445.76L204.88,446.34L205.03,446.93L205.18,447.52L205.32,448.12L205.47,448.73L205.62,449.35L205.77,449.98L205.91,450.61L206.06,451.25L206.21,451.9L206.37,452.55L206.52,453.2L206.68,453.86L206.84,454.52L207,455.19L207.16,455.86L207.33,456.54L207.5,457.21L207.68,457.89L207.85,458.57L208.04,459.26L208.22,459.94L208.41,460.63L208.61,461.32L208.8,462.01L209,462.7L209.2,463.4L209.4,464.1L209.61,464.8L209.82,465.5L210.03,466.21L210.24,466.92L210.45,467.64L210.67,468.36L210.88,469.08L211.1,469.81L211.32,470.54L211.54,471.27L211.76,472.01L211.98,472.75L212.2,473.5L212.42,474.25L212.64,475.01L212.86,475.77L213.08,476.53L213.3,477.3L213.52,478.08L213.74,478.86L213.96,479.64L214.18,480.42L214.39,481.21L214.61,482.01L214.83,482.8L215.05,483.6L215.26,484.41L215.48,485.21L215.69,486.02L215.91,486.83L216.13,487.64L216.34,488.45L216.56,489.26L216.77,490.08L216.99,490.89L217.2,491.71L217.42,492.53L217.63,493.35L217.85,494.16L218.07,494.98L218.28,495.8L218.5,496.61L218.71,497.43L218.93,498.24L219.14,499.06L219.36,499.87L219.57,500.68L219.79,501.49L220,502.3L220.22,503.11L220.44,503.91L220.65,504.72L220.87,505.52L221.09,506.32L221.3,507.13L221.52,507.93L221.73,508.73L221.95,509.53L222.17,510.33L222.38,511.13L222.6,511.93L222.82,512.73L223.03,513.53L223.25,514.33L223.47,515.13L223.69,515.93L223.9,516.74L224.12,517.54L224.34,518.34L224.55,519.14L224.77,519.94L224.99,520.74L225.21,521.55L225.42,522.35L225.64,523.16L225.86,523.96L226.07,524.77L226.29,525.58L226.51,526.38L226.73,527.19L226.95,528L227.17,528.81L227.39,529.62L227.61,530.42L227.83,531.23L228.05,532.04L228.28,532.84L228.5,533.65L228.72,534.45L228.95,535.26L229.18,536.06L229.41,536.86L229.64,537.67L229.87,538.47L230.1,539.26L230.33,540.06L230.57,540.86L230.81,541.65L231.04,542.44L231.29,543.23L231.53,544.02L231.77,544.81L232.02,545.59L232.27,546.38L232.52,547.16L232.77,547.94L233.02,548.71L233.28,549.49L233.54,550.27L233.81,551.04L234.08,551.82L234.35,552.59L234.62,553.37L234.9,554.15L235.19,554.92L235.48,555.7L235.77,556.48L236.07,557.26L236.37,558.05L236.67,558.83L236.99,559.62L237.31,560.41L237.63,561.2L237.96,562L238.29,562.8L238.64,563.6L238.98,564.41L239.34,565.22L239.7,566.03L240.07,566.85L240.44,567.68L240.83,568.5L241.21,569.34L241.61,570.17L242.01,571.01L242.42,571.86L242.83,572.7L243.24,573.54L243.66,574.38L244.08,575.22L244.5,576.05L244.93,576.89L245.35,577.71L245.77,578.54L246.2,579.35L246.62,580.16L247.04,580.96L247.46,581.75L247.87,582.53L248.29,583.3L248.69,584.06L249.1,584.81L249.49,585.54L249.88,586.26L250.27,586.96L250.64,587.64L251.01,588.31L251.37,588.96L251.73,589.59L252.07,590.21L252.4,590.8L252.72,591.37L253.03,591.92L253.33,592.45L253.63,592.97L253.92,593.47L254.2,593.95L254.49,594.43L254.77,594.89L255.04,595.35L255.32,595.8L255.61,596.25L255.89,596.69L256.18,597.13L256.47,597.57L256.78,598.01L257.09,598.46L257.4,598.91L257.73,599.37L258.08,599.83L258.43,600.31L258.8,600.8L259.18,601.29L259.58,601.8L259.99,602.31L260.41,602.83L260.84,603.36L261.28,603.89L261.73,604.42L262.19,604.96L262.66,605.51L263.15,606.05L263.64,606.6L264.13,607.15L264.64,607.7L265.15,608.25L265.67,608.8L266.2,609.34L266.73,609.88L267.27,610.42L267.82,610.96L268.37,611.49L268.92,612.01L269.48,612.53L270.04,613.04L270.6,613.54L271.17,614.03L271.74,614.52L272.32,614.99L272.89,615.46L273.47,615.93L274.06,616.38L274.64,616.83L275.23,617.27L275.82,617.7L276.41,618.13L277.01,618.55L277.61,618.97L278.21,619.38L278.82,619.78L279.42,620.17L280.03,620.56L280.64,620.95L281.26,621.33L281.87,621.7L282.49,622.07L283.11,622.43L283.73,622.79L284.35,623.14L284.98,623.49L285.61,623.83L286.24,624.17L286.87,624.51L287.5,624.83L288.14,625.16L288.77,625.48L289.41,625.79L290.04,626.1L290.68,626.4L291.31,626.7L291.95,626.99L292.59,627.28L293.22,627.56L293.86,627.83L294.49,628.1L295.12,628.37L295.75,628.62L296.38,628.87L297.01,629.12L297.64,629.36L298.26,629.59L298.88,629.81L299.5,630.03L300.12,630.24L300.73,630.44L301.34,630.64L301.95,630.83L302.56,631.02L303.16,631.2L303.76,631.38L304.36,631.55L304.95,631.71L305.55,631.87L306.14,632.03L306.74,632.18L307.33,632.34L307.91,632.48L308.5,632.63L309.09,632.77L309.68,632.91L310.26,633.05L310.85,633.19L311.43,633.33L312.02,633.46L312.6,633.6" fill="none" stroke="#f0a8a8" stroke-width="0.8"/>
<circle cx="60.8" cy="638.1" r="4" fill="#127a12" stroke="none" stroke-width="1"/>
<circle cx="73.3" cy="639.5" r="4" fill="#127a12" stroke="none" stroke-width="1"/>
<circle cx="86.1" cy="640" r="4" fill="#127a12" stroke="none" stroke-width="1"/>
<circle cx="98.7" cy="638.9" r="4" fill="#127a12" stroke="none" stroke-width="1"/>
<circle cx="111.2" cy="638.7" r="4" fill="#127a12" stroke="none" stroke-width="1"/>
<circle cx="124" cy="640" r="4" fill="#127a12" stroke="none" stroke-width="1"/>
<circle cx="136.5" cy="638.1" r="4" fill="#127a12" stroke="none" stroke-width="1"/>
<circle cx="148.8" cy="631.5" r="4" fill="#127a12" stroke="none" stroke-width="1"/>
<circle cx="161.7" cy="597.2" r="4" fill="#127a12" stroke="none" stroke-width="1"/>
<circle cx="174.2" cy="512.3" r="4" fill="#127a12" stroke="none" stroke-width="1"/>
<circle cx="186.8" cy="449.1" r="4" fill="#127a12" stroke="none" stroke-width="1"/>
<circle cx="199.1" cy="437.7" r="4" fill="#127a12" stroke="none" stroke-width="1"/>
<circle cx="211.9" cy="470.9" r="4" fill="#127a12" stroke="none" stroke-width="1"/>
<circle cx="224.3" cy="517.1" r="4" fill="#127a12" stroke="none" stroke-width="1"/>
<circle cx="236.9" cy="557.4" r="4" fill="#127a12" stroke="none" stroke-width="1"/>
<circle cx="249.7" cy="587.7" r="4" fill="#127a12" stroke="none" stroke-width="1"/>
<circle cx="262.2" cy="608.6" r="4" fill="#127a12" stroke="none" stroke-width="1"/>
<circle cx="274.8" cy="619.7" r="4" fill="#127a12" stroke="none" stroke-width="1"/>
<circle cx="287.5" cy="626.6" r="4" fill="#127a12" stroke="none" stroke-width="1"/>
<circle cx="300.1" cy="630.9" r="4" fill="#127a12" stroke="none" stroke-width="1"/>
<text x="48.6" y="694.2" font-size="13.2" text-anchor="middle" fill="#111" stroke="#111" stroke-width="0.25" font-family='"Liberation Sans", sans-serif' font-weight="normal" >0</text>
<text x="98.88" y="694.2" font-size="13.2" text-anchor="middle" fill="#111" stroke="#111" stroke-width="0.25" font-family='"Liberation Sans", sans-serif' font-weight="normal" >200</text>
<text x="149.16" y="694.2" font-size="13.2" text-anchor="middle" fill="#111" stroke="#111" stroke-width="0.25" font-family='"Liberation Sans", sans-serif' font-weight="normal" >400</text>
<text x="199.44" y="694.2" font-size="13.2" text-anchor="middle" fill="#111" stroke="#111" stroke-width="0.25" font-family='"Liberation Sans", sans-serif' font-weight="normal" >600</text>
<text x="249.72" y="694.2" font-size="13.2" text-anchor="middle" fill="#111" stroke="#111" stroke-width="0.25" font-family='"Liberation Sans", sans-serif' font-weight="normal" >800</text>
<text x="300" y="694.2" font-size="13.2" text-anchor="middle" fill="#111" stroke="#111" stroke-width="0.25" font-family='"Liberation Sans", sans-serif' font-weight="normal" >1000</text>
<text x="45.4" y="660" font-size="13.2" text-anchor="end" fill="#111" stroke="#111" stroke-width="0.25" font-family='"Liberation Sans", sans-serif' font-weight="normal" >0.0</text>
<text x="45.4" y="583.9" font-size="13.2" text-anchor="end" fill="#111" stroke="#111" stroke-width="0.25" font-family='"Liberation Sans", sans-serif' font-weight="normal" >0.3</text>
<text x="45.4" y="507.8" font-size="13.2" text-anchor="end" fill="#111" stroke="#111" stroke-width="0.25" font-family='"Liberation Sans", sans-serif' font-weight="normal" >0.6</text>
<text x="45.4" y="431.7" font-size="13.2" text-anchor="end" fill="#111" stroke="#111" stroke-width="0.25" font-family='"Liberation Sans", sans-serif' font-weight="normal" >0.9</text>
<text x="60.2" y="424.4" font-size="18.5" text-anchor="start" fill="#111" stroke="#111" stroke-width="0.25" font-family='"Liberation Sans", sans-serif' font-weight="normal" >m<tspan font-size="11.5" dy="7.4">wet</tspan><tspan dy="-7.4"> - m</tspan><tspan font-size="11.5" dy="7.4">Dry</tspan></text>
<text x="159" y="722.6" font-size="18.8" text-anchor="start" fill="#111" stroke="#111" stroke-width="0.25" font-family='"Liberation Sans", sans-serif' font-weight="normal" >T (<tspan font-size="11.5" dy="-9" dx="0.9">o</tspan><tspan dy="9" dx="0.9">C)</tspan></text>
<text transform="translate(14.9,626.5) rotate(-90)" font-size="17" font-family='"Liberation Sans", sans-serif' fill="#111" stroke="#111" stroke-width="0.25">&#916;m (m<tspan font-size="12" dy="5.5">wet</tspan><tspan dy="-5.5">-m</tspan><tspan font-size="12" dy="5.5">dry</tspan><tspan dy="-5.5">) (mg)</tspan></text>
<text x="0" y="730.5" font-size="28.6" text-anchor="start" fill="#111" stroke="#111" stroke-width="0.25" font-family='"Liberation Serif", serif' font-weight="normal" >(c)</text>
</g>
<g id="pd">
<rect x="451.8" y="438.1" width="83.3" height="23.5" fill="#0808f8" stroke="none" stroke-width="1" />
<rect x="535.1" y="438.1" width="121.2" height="23.5" fill="#0a800a" stroke="none" stroke-width="1" />
<text x="454.6" y="453.9" font-size="12.3" text-anchor="start" fill="#f4f0b0" stroke="#f4f0b0" stroke-width="0.25" font-family='"Liberation Sans", sans-serif' font-weight="normal" >Proton excess</text>
<text x="543" y="453.9" font-size="12.3" text-anchor="start" fill="#eef000" stroke="#eef000" stroke-width="0.25" font-family='"Liberation Sans", sans-serif' font-weight="normal" >Oxygen ion excess</text>
<line x1="451.8" y1="401.7" x2="451.8" y2="503.5" stroke="#111" stroke-width="1.6" stroke-dasharray="1.6,5.5" stroke-dashoffset="1.1"/>
<line x1="534.8" y1="402.5" x2="534.8" y2="540" stroke="#111" stroke-width="1.6" stroke-dasharray="1.6,5.5"/>
<line x1="421.1" y1="679.6" x2="421.1" y2="676.6" stroke="#666" stroke-width="0.8" />
<line x1="479.9" y1="679.6" x2="479.9" y2="677.6" stroke="#666" stroke-width="0.8" />
<line x1="538.7" y1="679.6" x2="538.7" y2="676.6" stroke="#666" stroke-width="0.8" />
<line x1="597.5" y1="679.6" x2="597.5" y2="677.6" stroke="#666" stroke-width="0.8" />
<line x1="391.7" y1="654.09" x2="394.7" y2="654.09" stroke="#666" stroke-width="0.8" />
<line x1="391.7" y1="616.25" x2="393.7" y2="616.25" stroke="#666" stroke-width="0.8" />
<line x1="391.7" y1="578.4" x2="394.7" y2="578.4" stroke="#666" stroke-width="0.8" />
<line x1="391.7" y1="540.55" x2="393.7" y2="540.55" stroke="#666" stroke-width="0.8" />
<line x1="391.7" y1="502.71" x2="394.7" y2="502.71" stroke="#666" stroke-width="0.8" />
<line x1="391.7" y1="464.87" x2="393.7" y2="464.87" stroke="#666" stroke-width="0.8" />
<line x1="391.7" y1="427.02" x2="394.7" y2="427.02" stroke="#666" stroke-width="0.8" />
<line x1="412.55" y1="401.7" x2="412.55" y2="404.7" stroke="#666" stroke-width="0.8" />
<line x1="451.91" y1="401.7" x2="451.91" y2="403.7" stroke="#666" stroke-width="0.8" />
<line x1="498.62" y1="401.7" x2="498.62" y2="404.7" stroke="#666" stroke-width="0.8" />
<line x1="554.92" y1="401.7" x2="554.92" y2="403.7" stroke="#666" stroke-width="0.8" />
<line x1="624.12" y1="401.7" x2="624.12" y2="404.7" stroke="#666" stroke-width="0.8" />
<rect x="391.7" y="401.7" width="264.6" height="277.9" fill="none" stroke="#8a8a8a" stroke-width="1" />
<line x1="412.6" y1="521.1" x2="412.6" y2="595.4" stroke="#c6dcc6" stroke-width="1" />
<line x1="411.4" y1="521.1" x2="413.8" y2="521.1" stroke="#c6dcc6" stroke-width="0.8" />
<line x1="411.4" y1="595.4" x2="413.8" y2="595.4" stroke="#c6dcc6" stroke-width="0.8" />
<line x1="431.3" y1="492.1" x2="431.3" y2="612" stroke="#c6dcc6" stroke-width="1" />
<line x1="430.1" y1="492.1" x2="432.5" y2="492.1" stroke="#c6dcc6" stroke-width="0.8" />
<line x1="430.1" y1="612" x2="432.5" y2="612" stroke="#c6dcc6" stroke-width="0.8" />
<line x1="452" y1="511.2" x2="452" y2="591.6" stroke="#c6dcc6" stroke-width="1" />
<line x1="450.8" y1="511.2" x2="453.2" y2="511.2" stroke="#c6dcc6" stroke-width="0.8" />
<line x1="450.8" y1="591.6" x2="453.2" y2="591.6" stroke="#c6dcc6" stroke-width="0.8" />
<line x1="473.8" y1="524.2" x2="473.8" y2="576.7" stroke="#c6dcc6" stroke-width="1" />
<line x1="472.6" y1="524.2" x2="475" y2="524.2" stroke="#c6dcc6" stroke-width="0.8" />
<line x1="472.6" y1="576.7" x2="475" y2="576.7" stroke="#c6dcc6" stroke-width="0.8" />
<line x1="498.3" y1="529" x2="498.3" y2="569.4" stroke="#c6dcc6" stroke-width="1" />
<line x1="497.1" y1="529" x2="499.5" y2="529" stroke="#c6dcc6" stroke-width="0.8" />
<line x1="497.1" y1="569.4" x2="499.5" y2="569.4" stroke="#c6dcc6" stroke-width="0.8" />
<line x1="525.3" y1="536" x2="525.3" y2="561.6" stroke="#c6dcc6" stroke-width="1" />
<line x1="524.1" y1="536" x2="526.5" y2="536" stroke="#c6dcc6" stroke-width="0.8" />
<line x1="524.1" y1="561.6" x2="526.5" y2="561.6" stroke="#c6dcc6" stroke-width="0.8" />
<line x1="554.8" y1="535.1" x2="554.8" y2="596.3" stroke="#c6dcc6" stroke-width="1" />
<line x1="553.6" y1="535.1" x2="556" y2="535.1" stroke="#c6dcc6" stroke-width="0.8" />
<line x1="553.6" y1="596.3" x2="556" y2="596.3" stroke="#c6dcc6" stroke-width="0.8" />
<line x1="587" y1="580.6" x2="587" y2="599.4" stroke="#c6dcc6" stroke-width="1" />
<line x1="585.8" y1="580.6" x2="588.2" y2="580.6" stroke="#c6dcc6" stroke-width="0.8" />
<line x1="585.8" y1="599.4" x2="588.2" y2="599.4" stroke="#c6dcc6" stroke-width="0.8" />
<line x1="623.7" y1="555.3" x2="623.7" y2="598.4" stroke="#c6dcc6" stroke-width="1" />
<line x1="622.5" y1="555.3" x2="624.9" y2="555.3" stroke="#c6dcc6" stroke-width="0.8" />
<line x1="622.5" y1="598.4" x2="624.9" y2="598.4" stroke="#c6dcc6" stroke-width="0.8" />
<line x1="391.7" y1="553.4" x2="656.3" y2="553.4" stroke="#111" stroke-width="1.2" />
<path d="M391.7,556.8L392.67,556.77L393.63,556.74L394.6,556.71L395.56,556.68L396.52,556.65L397.49,556.62L398.45,556.59L399.41,556.56L400.37,556.53L401.32,556.5L402.28,556.46L403.23,556.43L404.18,556.39L405.13,556.35L406.07,556.32L407.01,556.28L407.95,556.23L408.89,556.19L409.82,556.15L410.74,556.1L411.67,556.05L412.59,556L413.5,555.95L414.41,555.89L415.32,555.84L416.22,555.78L417.12,555.72L418.02,555.66L418.91,555.6L419.81,555.54L420.7,555.47L421.59,555.41L422.48,555.34L423.37,555.28L424.26,555.21L425.15,555.15L426.04,555.08L426.93,555.01L427.83,554.95L428.72,554.88L429.62,554.82L430.52,554.75L431.43,554.69L432.34,554.63L433.25,554.57L434.16,554.51L435.08,554.45L436,554.38L436.92,554.32L437.85,554.26L438.78,554.2L439.72,554.14L440.66,554.08L441.6,554.01L442.55,553.95L443.5,553.88L444.45,553.81L445.41,553.74L446.37,553.67L447.33,553.6L448.3,553.52L449.27,553.44L450.25,553.36L451.22,553.27L452.21,553.18L453.19,553.09L454.18,552.99L455.17,552.89L456.16,552.79L457.16,552.69L458.15,552.58L459.14,552.47L460.14,552.36L461.12,552.25L462.11,552.13L463.1,552.01L464.07,551.89L465.05,551.77L466.02,551.65L466.98,551.53L467.94,551.4L468.89,551.28L469.83,551.15L470.76,551.03L471.68,550.9L472.59,550.77L473.49,550.64L474.38,550.52L475.26,550.39L476.12,550.26L476.97,550.14L477.82,550.01L478.65,549.89L479.47,549.77L480.27,549.64L481.07,549.52L481.86,549.41L482.63,549.29L483.4,549.18L484.15,549.07L484.89,548.96L485.63,548.86L486.35,548.76L487.06,548.66L487.76,548.57L488.46,548.48L489.14,548.4L489.81,548.31L490.48,548.24L491.14,548.16L491.79,548.1L492.44,548.03L493.08,547.97L493.72,547.91L494.35,547.86L494.98,547.8L495.61,547.76L496.24,547.71L496.87,547.67L497.5,547.63L498.13,547.59L498.76,547.56L499.39,547.53L500.03,547.5L500.66,547.48L501.29,547.45L501.92,547.44L502.55,547.42L503.18,547.41L503.8,547.4L504.42,547.39L505.04,547.39L505.65,547.39L506.26,547.39L506.86,547.4L507.45,547.41L508.03,547.42L508.61,547.44L509.18,547.46L509.75,547.48L510.3,547.51L510.86,547.54L511.4,547.58L511.93,547.61L512.46,547.66L512.98,547.7L513.5,547.75L514.01,547.8L514.51,547.86L515,547.91L515.49,547.98L515.97,548.04L516.45,548.11L516.93,548.18L517.41,548.25L517.89,548.33L518.37,548.41L518.85,548.49L519.33,548.57L519.82,548.66L520.32,548.74L520.81,548.83L521.31,548.92L521.81,549.02L522.31,549.12L522.81,549.22L523.31,549.32L523.81,549.43L524.3,549.55L524.79,549.67L525.27,549.79L525.75,549.92L526.23,550.06L526.7,550.2L527.16,550.34L527.62,550.48L528.08,550.63L528.54,550.78L529,550.93L529.46,551.07L529.91,551.22L530.37,551.36L530.83,551.5L531.29,551.64L531.76,551.78L532.23,551.92L532.7,552.07L533.19,552.22L533.68,552.39L534.18,552.57L534.69,552.76L535.21,552.97L535.75,553.2L536.3,553.45L536.86,553.73L537.44,554.03L538.03,554.36L538.63,554.7L539.24,555.06L539.86,555.44L540.48,555.83L541.11,556.24L541.75,556.65L542.38,557.07L543.02,557.5L543.65,557.92L544.28,558.35L544.91,558.78L545.53,559.2L546.14,559.62L546.74,560.02L547.33,560.42L547.91,560.81L548.48,561.19L549.04,561.56L549.59,561.92L550.14,562.28L550.68,562.64L551.21,563L551.74,563.37L552.27,563.73L552.79,564.1L553.32,564.48L553.84,564.87L554.37,565.27L554.9,565.68L555.43,566.11L555.97,566.55L556.51,567L557.05,567.47L557.6,567.95L558.16,568.45L558.71,568.95L559.28,569.47L559.84,569.99L560.42,570.52L560.99,571.07L561.57,571.61L562.16,572.17L562.75,572.72L563.34,573.28L563.94,573.85L564.54,574.42L565.15,574.98L565.76,575.55L566.38,576.12L567,576.69L567.62,577.25L568.24,577.81L568.86,578.36L569.48,578.91L570.1,579.45L570.7,579.99L571.3,580.51L571.9,581.02L572.48,581.53L573.05,582.02L573.61,582.5L574.16,582.96L574.69,583.41L575.2,583.84L575.7,584.25L576.17,584.64L576.63,585.02L577.07,585.38L577.5,585.72L577.91,586.05L578.32,586.36L578.72,586.66L579.12,586.95L579.52,587.24L579.92,587.51L580.32,587.78L580.73,588.04L581.16,588.29L581.59,588.55L582.03,588.8L582.49,589.04L582.94,589.28L583.41,589.51L583.88,589.74L584.34,589.95L584.81,590.16L585.28,590.36L585.75,590.55L586.21,590.73L586.66,590.9L587.11,591.05L587.55,591.19L587.99,591.33L588.43,591.45L588.86,591.56L589.29,591.67L589.73,591.76L590.16,591.85L590.6,591.93L591.04,592.01L591.48,592.07L591.93,592.13L592.38,592.18L592.83,592.23L593.28,592.26L593.74,592.29L594.19,592.31L594.64,592.32L595.09,592.32L595.54,592.31L595.98,592.28L596.42,592.25L596.86,592.21L597.29,592.16L597.72,592.09L598.15,592.02L598.58,591.94L599,591.85L599.41,591.75L599.83,591.65L600.24,591.53L600.65,591.41L601.07,591.28L601.48,591.13L601.9,590.98L602.33,590.81L602.77,590.63L603.23,590.44L603.7,590.22L604.18,590L604.69,589.75L605.22,589.49L605.78,589.21L606.35,588.91L606.95,588.59L607.56,588.26L608.18,587.91L608.81,587.55L609.46,587.18L610.1,586.8L610.76,586.41L611.41,586.02L612.06,585.61L612.71,585.21L613.35,584.79L613.98,584.38L614.6,583.96L615.2,583.54L615.79,583.12L616.36,582.7L616.92,582.29L617.46,581.87L618,581.45L618.52,581.03L619.04,580.61L619.55,580.19L620.06,579.76L620.56,579.33L621.07,578.9L621.57,578.46L622.08,578.01L622.6,577.57L623.12,577.11L623.64,576.65L624.18,576.18L624.73,575.7L625.29,575.22L625.85,574.74L626.42,574.24L627,573.75L627.58,573.25L628.17,572.75L628.76,572.24L629.36,571.73L629.95,571.22L630.55,570.71L631.16,570.2L631.76,569.69L632.36,569.18L632.96,568.67L633.56,568.16L634.15,567.66L634.74,567.15L635.33,566.66L635.92,566.16L636.5,565.67L637.09,565.18L637.67,564.7L638.26,564.22L638.84,563.74L639.43,563.28L640.02,562.81L640.61,562.36L641.21,561.91L641.81,561.46L642.41,561.03L643.02,560.6L643.63,560.17L644.25,559.76L644.88,559.35L645.52,558.96L646.16,558.57L646.81,558.18L647.46,557.81L648.12,557.44L648.78,557.07L649.45,556.71L650.13,556.36L650.8,556.01L651.48,555.66L652.17,555.32L652.85,554.98L653.54,554.64L654.23,554.3L654.92,553.97L655.61,553.63L656.3,553.3" fill="none" stroke="#e02828" stroke-width="1.5"/>
<circle cx="412.6" cy="558" r="4" fill="#127a12" stroke="none" stroke-width="1"/>
<circle cx="431.3" cy="551.8" r="4" fill="#127a12" stroke="none" stroke-width="1"/>
<circle cx="452" cy="551.6" r="4" fill="#127a12" stroke="none" stroke-width="1"/>
<circle cx="473.8" cy="550.6" r="4" fill="#127a12" stroke="none" stroke-width="1"/>
<circle cx="498.3" cy="549.3" r="4" fill="#127a12" stroke="none" stroke-width="1"/>
<circle cx="525.3" cy="548.7" r="4" fill="#127a12" stroke="none" stroke-width="1"/>
<circle cx="554.8" cy="565.6" r="4" fill="#127a12" stroke="none" stroke-width="1"/>
<circle cx="587" cy="590.1" r="4" fill="#127a12" stroke="none" stroke-width="1"/>
<circle cx="623.7" cy="576.6" r="4" fill="#127a12" stroke="none" stroke-width="1"/>
<text x="421.1" y="696" font-size="14.6" text-anchor="middle" fill="#111" stroke="#111" stroke-width="0.25" font-family='"Liberation Sans", sans-serif' font-weight="normal" >0.8</text>
<text x="538.7" y="696" font-size="14.6" text-anchor="middle" fill="#111" stroke="#111" stroke-width="0.25" font-family='"Liberation Sans", sans-serif' font-weight="normal" >1.0</text>
<text x="656.3" y="696" font-size="14.6" text-anchor="middle" fill="#111" stroke="#111" stroke-width="0.25" font-family='"Liberation Sans", sans-serif' font-weight="normal" >1.2</text>
<text x="388.4" y="659.29" font-size="14.6" text-anchor="end" fill="#111" stroke="#111" stroke-width="0.25" font-family='"Liberation Sans", sans-serif' font-weight="normal" >0.6</text>
<text x="388.4" y="583.6" font-size="14.6" text-anchor="end" fill="#111" stroke="#111" stroke-width="0.25" font-family='"Liberation Sans", sans-serif' font-weight="normal" >0.9</text>
<text x="388.4" y="507.91" font-size="14.6" text-anchor="end" fill="#111" stroke="#111" stroke-width="0.25" font-family='"Liberation Sans", sans-serif' font-weight="normal" >1.2</text>
<text x="388.4" y="432.22" font-size="14.6" text-anchor="end" fill="#111" stroke="#111" stroke-width="0.25" font-family='"Liberation Sans", sans-serif' font-weight="normal" >1.5</text>
<text x="412.55" y="395.8" font-size="15" text-anchor="middle" fill="#111" stroke="#111" stroke-width="0.25" font-family='"Liberation Sans", sans-serif' font-weight="normal" >1000</text>
<text x="498.62" y="395.8" font-size="15" text-anchor="middle" fill="#111" stroke="#111" stroke-width="0.25" font-family='"Liberation Sans", sans-serif' font-weight="normal" >800</text>
<text x="624.12" y="395.8" font-size="15" text-anchor="middle" fill="#111" stroke="#111" stroke-width="0.25" font-family='"Liberation Sans", sans-serif' font-weight="normal" >600</text>
<text x="504" y="375.8" font-size="18.3" text-anchor="start" fill="#111" stroke="#111" stroke-width="0.25" font-family='"Liberation Sans", sans-serif' font-weight="normal" >T(<tspan font-size="11.5" dy="-9" dx="0.9">o</tspan><tspan dy="9" dx="0.9">C)</tspan></text>
<text x="476" y="726.1" font-size="18.8" text-anchor="start" fill="#111" stroke="#111" stroke-width="0.25" font-family='"Liberation Sans", sans-serif' font-weight="normal" >1000/T (K<tspan font-size="11.5" dy="-8">-1</tspan><tspan dy="8">)</tspan></text>
<text x="592.7" y="544.6" font-size="14.6" text-anchor="start" fill="#111" stroke="#111" stroke-width="0.25" font-family='"Liberation Sans", sans-serif' font-weight="normal" letter-spacing="0.6">[H]=2[O]</text>
<text transform="translate(354.4,574.7) rotate(-90)" font-size="18.4" font-family='"Liberation Sans", sans-serif' fill="#111" stroke="#111" stroke-width="0.25">8 R<tspan font-size="11.5" dy="7">m</tspan></text>
<text x="361" y="733.9" font-size="28.6" text-anchor="start" fill="#111" stroke="#111" stroke-width="0.25" font-family='"Liberation Serif", serif' font-weight="normal" >(d)</text>
</g>
</svg>
</body></html>
